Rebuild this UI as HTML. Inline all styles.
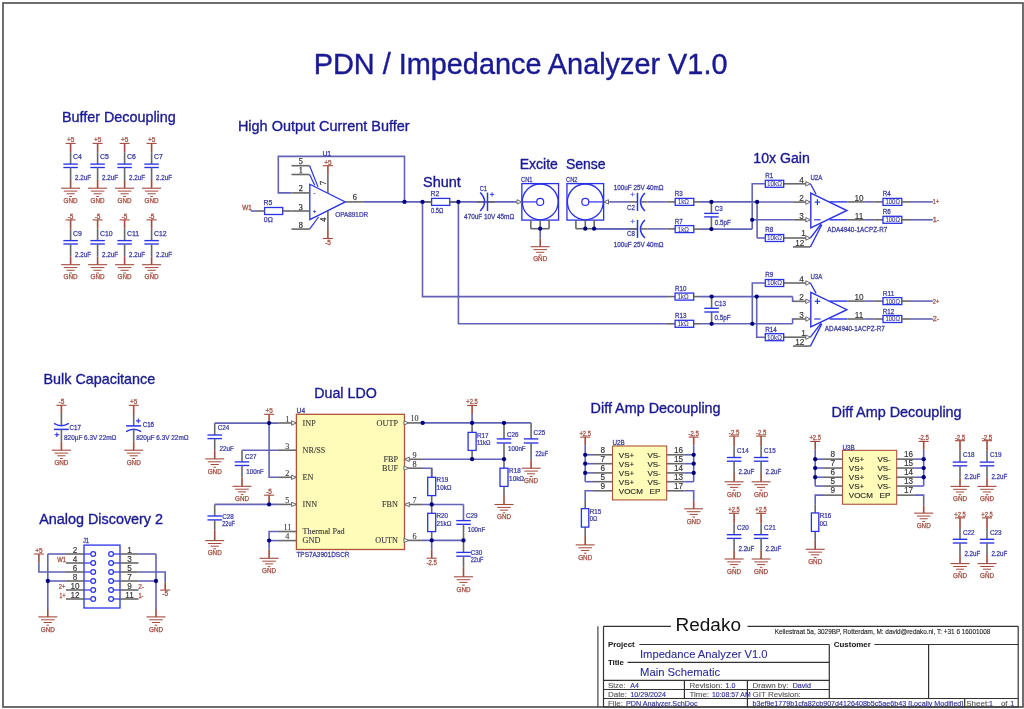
<!DOCTYPE html>
<html><head><meta charset="utf-8"><style>
html,body{margin:0;padding:0;background:#fff;}
svg{display:block;will-change:transform;}
text{white-space:pre;}
</style></head><body>
<svg width="1024" height="709" viewBox="0 0 1024 709" shape-rendering="auto">
<rect x="0" y="0" width="1024" height="709" fill="#ffffff"/>
<rect x="3.00" y="3.00" width="1020.00" height="704.00" fill="none" stroke="#4a4a4a" stroke-width="1.6"/>
<text transform="translate(313.80 74.20)" font-family='"Liberation Sans", sans-serif' font-size="28.85" font-weight="normal" fill="#1a1a92" stroke="#1a1a92" stroke-width="0.4">PDN / Impedance Analyzer V1.0</text>
<text transform="translate(61.90 121.90)" font-family='"Liberation Sans", sans-serif' font-size="14.37" font-weight="normal" fill="#1a1a92" stroke="#1a1a92" stroke-width="0.35">Buffer Decoupling</text>
<text transform="translate(237.90 130.70)" font-family='"Liberation Sans", sans-serif' font-size="14.46" font-weight="normal" fill="#1a1a92" stroke="#1a1a92" stroke-width="0.35">High Output Current Buffer</text>
<text transform="translate(423.00 186.50)" font-family='"Liberation Sans", sans-serif' font-size="14.47" font-weight="normal" fill="#1a1a92" stroke="#1a1a92" stroke-width="0.35">Shunt</text>
<text transform="translate(519.70 169.00)" font-family='"Liberation Sans", sans-serif' font-size="14.03" font-weight="normal" fill="#1a1a92" stroke="#1a1a92" stroke-width="0.35">Excite</text>
<text transform="translate(565.90 169.00)" font-family='"Liberation Sans", sans-serif' font-size="14.00" font-weight="normal" fill="#1a1a92" stroke="#1a1a92" stroke-width="0.35">Sense</text>
<text transform="translate(753.30 162.60)" font-family='"Liberation Sans", sans-serif' font-size="14.12" font-weight="normal" fill="#1a1a92" stroke="#1a1a92" stroke-width="0.35">10x Gain</text>
<text transform="translate(43.50 384.20)" font-family='"Liberation Sans", sans-serif' font-size="14.37" font-weight="normal" fill="#1a1a92" stroke="#1a1a92" stroke-width="0.35">Bulk Capacitance</text>
<text transform="translate(39.20 523.70)" font-family='"Liberation Sans", sans-serif' font-size="14.38" font-weight="normal" fill="#1a1a92" stroke="#1a1a92" stroke-width="0.35">Analog Discovery 2</text>
<text transform="translate(314.20 398.30)" font-family='"Liberation Sans", sans-serif' font-size="14.26" font-weight="normal" fill="#1a1a92" stroke="#1a1a92" stroke-width="0.35">Dual LDO</text>
<text transform="translate(590.60 412.80)" font-family='"Liberation Sans", sans-serif' font-size="14.39" font-weight="normal" fill="#1a1a92" stroke="#1a1a92" stroke-width="0.35">Diff Amp Decoupling</text>
<text transform="translate(831.60 416.80)" font-family='"Liberation Sans", sans-serif' font-size="14.38" font-weight="normal" fill="#1a1a92" stroke="#1a1a92" stroke-width="0.35">Diff Amp Decoupling</text>
<line x1="65.60" y1="143.40" x2="75.60" y2="143.40" stroke="#a24a3c" stroke-width="1.1"/>
<text transform="translate(66.90 142.26) scale(0.9835 1)" font-family='"Liberation Sans", sans-serif' font-size="6.60" font-weight="normal" fill="#a24a3c" stroke="#a24a3c" stroke-width="0.25">+5</text>
<line x1="70.60" y1="143.40" x2="70.60" y2="152.20" stroke="#a24a3c" stroke-width="1.6"/>
<line x1="70.60" y1="152.20" x2="70.60" y2="164.10" stroke="#686868" stroke-width="1.6"/>
<line x1="63.35" y1="164.10" x2="77.85" y2="164.10" stroke="#2a32e6" stroke-width="1.35"/>
<line x1="63.35" y1="167.50" x2="77.85" y2="167.50" stroke="#2a32e6" stroke-width="1.35"/>
<line x1="70.60" y1="167.50" x2="70.60" y2="180.00" stroke="#686868" stroke-width="1.6"/>
<line x1="70.60" y1="180.00" x2="70.60" y2="188.20" stroke="#a24a3c" stroke-width="1.6"/>
<line x1="61.10" y1="188.20" x2="80.10" y2="188.20" stroke="#a24a3c" stroke-width="1.1"/>
<line x1="63.80" y1="191.10" x2="77.40" y2="191.10" stroke="#a24a3c" stroke-width="1.0"/>
<line x1="66.50" y1="193.80" x2="74.70" y2="193.80" stroke="#a24a3c" stroke-width="1.0"/>
<line x1="69.30" y1="196.50" x2="71.90" y2="196.50" stroke="#a24a3c" stroke-width="1.0"/>
<text transform="translate(63.60 202.96)" font-family='"Liberation Sans", sans-serif' font-size="6.30" font-weight="normal" fill="#a24a3c" stroke="#a24a3c" stroke-width="0.25">GND</text>
<text transform="translate(73.00 159.47)" font-family='"Liberation Sans", sans-serif' font-size="6.90" font-weight="normal" fill="#3a3aa0" stroke="#3a3aa0" stroke-width="0.25">C4</text>
<text transform="translate(75.10 180.27) scale(0.9012 1)" font-family='"Liberation Sans", sans-serif' font-size="6.90" font-weight="normal" fill="#3a3aa0" stroke="#3a3aa0" stroke-width="0.25">2.2uF</text>
<line x1="92.60" y1="143.40" x2="102.60" y2="143.40" stroke="#a24a3c" stroke-width="1.1"/>
<text transform="translate(93.90 142.26) scale(0.9835 1)" font-family='"Liberation Sans", sans-serif' font-size="6.60" font-weight="normal" fill="#a24a3c" stroke="#a24a3c" stroke-width="0.25">+5</text>
<line x1="97.60" y1="143.40" x2="97.60" y2="152.20" stroke="#a24a3c" stroke-width="1.6"/>
<line x1="97.60" y1="152.20" x2="97.60" y2="164.10" stroke="#686868" stroke-width="1.6"/>
<line x1="90.35" y1="164.10" x2="104.85" y2="164.10" stroke="#2a32e6" stroke-width="1.35"/>
<line x1="90.35" y1="167.50" x2="104.85" y2="167.50" stroke="#2a32e6" stroke-width="1.35"/>
<line x1="97.60" y1="167.50" x2="97.60" y2="180.00" stroke="#686868" stroke-width="1.6"/>
<line x1="97.60" y1="180.00" x2="97.60" y2="188.20" stroke="#a24a3c" stroke-width="1.6"/>
<line x1="88.10" y1="188.20" x2="107.10" y2="188.20" stroke="#a24a3c" stroke-width="1.1"/>
<line x1="90.80" y1="191.10" x2="104.40" y2="191.10" stroke="#a24a3c" stroke-width="1.0"/>
<line x1="93.50" y1="193.80" x2="101.70" y2="193.80" stroke="#a24a3c" stroke-width="1.0"/>
<line x1="96.30" y1="196.50" x2="98.90" y2="196.50" stroke="#a24a3c" stroke-width="1.0"/>
<text transform="translate(90.60 202.96)" font-family='"Liberation Sans", sans-serif' font-size="6.30" font-weight="normal" fill="#a24a3c" stroke="#a24a3c" stroke-width="0.25">GND</text>
<text transform="translate(100.00 159.47)" font-family='"Liberation Sans", sans-serif' font-size="6.90" font-weight="normal" fill="#3a3aa0" stroke="#3a3aa0" stroke-width="0.25">C5</text>
<text transform="translate(102.10 180.27) scale(0.9012 1)" font-family='"Liberation Sans", sans-serif' font-size="6.90" font-weight="normal" fill="#3a3aa0" stroke="#3a3aa0" stroke-width="0.25">2.2uF</text>
<line x1="119.60" y1="143.40" x2="129.60" y2="143.40" stroke="#a24a3c" stroke-width="1.1"/>
<text transform="translate(120.90 142.26) scale(0.9835 1)" font-family='"Liberation Sans", sans-serif' font-size="6.60" font-weight="normal" fill="#a24a3c" stroke="#a24a3c" stroke-width="0.25">+5</text>
<line x1="124.60" y1="143.40" x2="124.60" y2="152.20" stroke="#a24a3c" stroke-width="1.6"/>
<line x1="124.60" y1="152.20" x2="124.60" y2="164.10" stroke="#686868" stroke-width="1.6"/>
<line x1="117.35" y1="164.10" x2="131.85" y2="164.10" stroke="#2a32e6" stroke-width="1.35"/>
<line x1="117.35" y1="167.50" x2="131.85" y2="167.50" stroke="#2a32e6" stroke-width="1.35"/>
<line x1="124.60" y1="167.50" x2="124.60" y2="180.00" stroke="#686868" stroke-width="1.6"/>
<line x1="124.60" y1="180.00" x2="124.60" y2="188.20" stroke="#a24a3c" stroke-width="1.6"/>
<line x1="115.10" y1="188.20" x2="134.10" y2="188.20" stroke="#a24a3c" stroke-width="1.1"/>
<line x1="117.80" y1="191.10" x2="131.40" y2="191.10" stroke="#a24a3c" stroke-width="1.0"/>
<line x1="120.50" y1="193.80" x2="128.70" y2="193.80" stroke="#a24a3c" stroke-width="1.0"/>
<line x1="123.30" y1="196.50" x2="125.90" y2="196.50" stroke="#a24a3c" stroke-width="1.0"/>
<text transform="translate(117.60 202.96)" font-family='"Liberation Sans", sans-serif' font-size="6.30" font-weight="normal" fill="#a24a3c" stroke="#a24a3c" stroke-width="0.25">GND</text>
<text transform="translate(127.00 159.47)" font-family='"Liberation Sans", sans-serif' font-size="6.90" font-weight="normal" fill="#3a3aa0" stroke="#3a3aa0" stroke-width="0.25">C6</text>
<text transform="translate(129.10 180.27) scale(0.9012 1)" font-family='"Liberation Sans", sans-serif' font-size="6.90" font-weight="normal" fill="#3a3aa0" stroke="#3a3aa0" stroke-width="0.25">2.2uF</text>
<line x1="146.60" y1="143.40" x2="156.60" y2="143.40" stroke="#a24a3c" stroke-width="1.1"/>
<text transform="translate(147.90 142.26) scale(0.9835 1)" font-family='"Liberation Sans", sans-serif' font-size="6.60" font-weight="normal" fill="#a24a3c" stroke="#a24a3c" stroke-width="0.25">+5</text>
<line x1="151.60" y1="143.40" x2="151.60" y2="152.20" stroke="#a24a3c" stroke-width="1.6"/>
<line x1="151.60" y1="152.20" x2="151.60" y2="164.10" stroke="#686868" stroke-width="1.6"/>
<line x1="144.35" y1="164.10" x2="158.85" y2="164.10" stroke="#2a32e6" stroke-width="1.35"/>
<line x1="144.35" y1="167.50" x2="158.85" y2="167.50" stroke="#2a32e6" stroke-width="1.35"/>
<line x1="151.60" y1="167.50" x2="151.60" y2="180.00" stroke="#686868" stroke-width="1.6"/>
<line x1="151.60" y1="180.00" x2="151.60" y2="188.20" stroke="#a24a3c" stroke-width="1.6"/>
<line x1="142.10" y1="188.20" x2="161.10" y2="188.20" stroke="#a24a3c" stroke-width="1.1"/>
<line x1="144.80" y1="191.10" x2="158.40" y2="191.10" stroke="#a24a3c" stroke-width="1.0"/>
<line x1="147.50" y1="193.80" x2="155.70" y2="193.80" stroke="#a24a3c" stroke-width="1.0"/>
<line x1="150.30" y1="196.50" x2="152.90" y2="196.50" stroke="#a24a3c" stroke-width="1.0"/>
<text transform="translate(144.60 202.96)" font-family='"Liberation Sans", sans-serif' font-size="6.30" font-weight="normal" fill="#a24a3c" stroke="#a24a3c" stroke-width="0.25">GND</text>
<text transform="translate(154.00 159.47)" font-family='"Liberation Sans", sans-serif' font-size="6.90" font-weight="normal" fill="#3a3aa0" stroke="#3a3aa0" stroke-width="0.25">C7</text>
<text transform="translate(156.10 180.27) scale(0.9012 1)" font-family='"Liberation Sans", sans-serif' font-size="6.90" font-weight="normal" fill="#3a3aa0" stroke="#3a3aa0" stroke-width="0.25">2.2uF</text>
<line x1="65.60" y1="219.90" x2="75.60" y2="219.90" stroke="#a24a3c" stroke-width="1.1"/>
<text transform="translate(67.70 218.76) scale(0.9885 1)" font-family='"Liberation Sans", sans-serif' font-size="6.60" font-weight="normal" fill="#a24a3c" stroke="#a24a3c" stroke-width="0.25">-5</text>
<line x1="70.60" y1="219.90" x2="70.60" y2="228.70" stroke="#a24a3c" stroke-width="1.6"/>
<line x1="70.60" y1="228.70" x2="70.60" y2="240.60" stroke="#686868" stroke-width="1.6"/>
<line x1="63.35" y1="240.60" x2="77.85" y2="240.60" stroke="#2a32e6" stroke-width="1.35"/>
<line x1="63.35" y1="244.00" x2="77.85" y2="244.00" stroke="#2a32e6" stroke-width="1.35"/>
<line x1="70.60" y1="244.00" x2="70.60" y2="256.50" stroke="#686868" stroke-width="1.6"/>
<line x1="70.60" y1="256.50" x2="70.60" y2="264.70" stroke="#a24a3c" stroke-width="1.6"/>
<line x1="61.10" y1="264.70" x2="80.10" y2="264.70" stroke="#a24a3c" stroke-width="1.1"/>
<line x1="63.80" y1="267.60" x2="77.40" y2="267.60" stroke="#a24a3c" stroke-width="1.0"/>
<line x1="66.50" y1="270.30" x2="74.70" y2="270.30" stroke="#a24a3c" stroke-width="1.0"/>
<line x1="69.30" y1="273.00" x2="71.90" y2="273.00" stroke="#a24a3c" stroke-width="1.0"/>
<text transform="translate(63.60 279.46)" font-family='"Liberation Sans", sans-serif' font-size="6.30" font-weight="normal" fill="#a24a3c" stroke="#a24a3c" stroke-width="0.25">GND</text>
<text transform="translate(73.00 235.97)" font-family='"Liberation Sans", sans-serif' font-size="6.90" font-weight="normal" fill="#3a3aa0" stroke="#3a3aa0" stroke-width="0.25">C9</text>
<text transform="translate(75.10 256.77) scale(0.9012 1)" font-family='"Liberation Sans", sans-serif' font-size="6.90" font-weight="normal" fill="#3a3aa0" stroke="#3a3aa0" stroke-width="0.25">2.2uF</text>
<line x1="92.60" y1="219.90" x2="102.60" y2="219.90" stroke="#a24a3c" stroke-width="1.1"/>
<text transform="translate(94.70 218.76) scale(0.9885 1)" font-family='"Liberation Sans", sans-serif' font-size="6.60" font-weight="normal" fill="#a24a3c" stroke="#a24a3c" stroke-width="0.25">-5</text>
<line x1="97.60" y1="219.90" x2="97.60" y2="228.70" stroke="#a24a3c" stroke-width="1.6"/>
<line x1="97.60" y1="228.70" x2="97.60" y2="240.60" stroke="#686868" stroke-width="1.6"/>
<line x1="90.35" y1="240.60" x2="104.85" y2="240.60" stroke="#2a32e6" stroke-width="1.35"/>
<line x1="90.35" y1="244.00" x2="104.85" y2="244.00" stroke="#2a32e6" stroke-width="1.35"/>
<line x1="97.60" y1="244.00" x2="97.60" y2="256.50" stroke="#686868" stroke-width="1.6"/>
<line x1="97.60" y1="256.50" x2="97.60" y2="264.70" stroke="#a24a3c" stroke-width="1.6"/>
<line x1="88.10" y1="264.70" x2="107.10" y2="264.70" stroke="#a24a3c" stroke-width="1.1"/>
<line x1="90.80" y1="267.60" x2="104.40" y2="267.60" stroke="#a24a3c" stroke-width="1.0"/>
<line x1="93.50" y1="270.30" x2="101.70" y2="270.30" stroke="#a24a3c" stroke-width="1.0"/>
<line x1="96.30" y1="273.00" x2="98.90" y2="273.00" stroke="#a24a3c" stroke-width="1.0"/>
<text transform="translate(90.60 279.46)" font-family='"Liberation Sans", sans-serif' font-size="6.30" font-weight="normal" fill="#a24a3c" stroke="#a24a3c" stroke-width="0.25">GND</text>
<text transform="translate(100.00 235.97)" font-family='"Liberation Sans", sans-serif' font-size="6.90" font-weight="normal" fill="#3a3aa0" stroke="#3a3aa0" stroke-width="0.25">C10</text>
<text transform="translate(102.10 256.77) scale(0.9012 1)" font-family='"Liberation Sans", sans-serif' font-size="6.90" font-weight="normal" fill="#3a3aa0" stroke="#3a3aa0" stroke-width="0.25">2.2uF</text>
<line x1="119.60" y1="219.90" x2="129.60" y2="219.90" stroke="#a24a3c" stroke-width="1.1"/>
<text transform="translate(121.70 218.76) scale(0.9885 1)" font-family='"Liberation Sans", sans-serif' font-size="6.60" font-weight="normal" fill="#a24a3c" stroke="#a24a3c" stroke-width="0.25">-5</text>
<line x1="124.60" y1="219.90" x2="124.60" y2="228.70" stroke="#a24a3c" stroke-width="1.6"/>
<line x1="124.60" y1="228.70" x2="124.60" y2="240.60" stroke="#686868" stroke-width="1.6"/>
<line x1="117.35" y1="240.60" x2="131.85" y2="240.60" stroke="#2a32e6" stroke-width="1.35"/>
<line x1="117.35" y1="244.00" x2="131.85" y2="244.00" stroke="#2a32e6" stroke-width="1.35"/>
<line x1="124.60" y1="244.00" x2="124.60" y2="256.50" stroke="#686868" stroke-width="1.6"/>
<line x1="124.60" y1="256.50" x2="124.60" y2="264.70" stroke="#a24a3c" stroke-width="1.6"/>
<line x1="115.10" y1="264.70" x2="134.10" y2="264.70" stroke="#a24a3c" stroke-width="1.1"/>
<line x1="117.80" y1="267.60" x2="131.40" y2="267.60" stroke="#a24a3c" stroke-width="1.0"/>
<line x1="120.50" y1="270.30" x2="128.70" y2="270.30" stroke="#a24a3c" stroke-width="1.0"/>
<line x1="123.30" y1="273.00" x2="125.90" y2="273.00" stroke="#a24a3c" stroke-width="1.0"/>
<text transform="translate(117.60 279.46)" font-family='"Liberation Sans", sans-serif' font-size="6.30" font-weight="normal" fill="#a24a3c" stroke="#a24a3c" stroke-width="0.25">GND</text>
<text transform="translate(127.00 235.97)" font-family='"Liberation Sans", sans-serif' font-size="6.90" font-weight="normal" fill="#3a3aa0" stroke="#3a3aa0" stroke-width="0.25">C11</text>
<text transform="translate(129.10 256.77) scale(0.9012 1)" font-family='"Liberation Sans", sans-serif' font-size="6.90" font-weight="normal" fill="#3a3aa0" stroke="#3a3aa0" stroke-width="0.25">2.2uF</text>
<line x1="146.60" y1="219.90" x2="156.60" y2="219.90" stroke="#a24a3c" stroke-width="1.1"/>
<text transform="translate(148.70 218.76) scale(0.9885 1)" font-family='"Liberation Sans", sans-serif' font-size="6.60" font-weight="normal" fill="#a24a3c" stroke="#a24a3c" stroke-width="0.25">-5</text>
<line x1="151.60" y1="219.90" x2="151.60" y2="228.70" stroke="#a24a3c" stroke-width="1.6"/>
<line x1="151.60" y1="228.70" x2="151.60" y2="240.60" stroke="#686868" stroke-width="1.6"/>
<line x1="144.35" y1="240.60" x2="158.85" y2="240.60" stroke="#2a32e6" stroke-width="1.35"/>
<line x1="144.35" y1="244.00" x2="158.85" y2="244.00" stroke="#2a32e6" stroke-width="1.35"/>
<line x1="151.60" y1="244.00" x2="151.60" y2="256.50" stroke="#686868" stroke-width="1.6"/>
<line x1="151.60" y1="256.50" x2="151.60" y2="264.70" stroke="#a24a3c" stroke-width="1.6"/>
<line x1="142.10" y1="264.70" x2="161.10" y2="264.70" stroke="#a24a3c" stroke-width="1.1"/>
<line x1="144.80" y1="267.60" x2="158.40" y2="267.60" stroke="#a24a3c" stroke-width="1.0"/>
<line x1="147.50" y1="270.30" x2="155.70" y2="270.30" stroke="#a24a3c" stroke-width="1.0"/>
<line x1="150.30" y1="273.00" x2="152.90" y2="273.00" stroke="#a24a3c" stroke-width="1.0"/>
<text transform="translate(144.60 279.46)" font-family='"Liberation Sans", sans-serif' font-size="6.30" font-weight="normal" fill="#a24a3c" stroke="#a24a3c" stroke-width="0.25">GND</text>
<text transform="translate(154.00 235.97)" font-family='"Liberation Sans", sans-serif' font-size="6.90" font-weight="normal" fill="#3a3aa0" stroke="#3a3aa0" stroke-width="0.25">C12</text>
<text transform="translate(156.10 256.77) scale(0.9012 1)" font-family='"Liberation Sans", sans-serif' font-size="6.90" font-weight="normal" fill="#3a3aa0" stroke="#3a3aa0" stroke-width="0.25">2.2uF</text>
<polyline points="291.50,192.90 278.30,192.90 278.30,156.40 404.50,156.40 404.50,201.90" fill="none" stroke="#6262b6" stroke-width="1.6" stroke-linejoin="miter"/>
<polygon points="309.8,184.2 309.8,219.7 345.3,201.95" fill="none" stroke="#2a32e6" stroke-width="1.3"/>
<line x1="291.50" y1="165.70" x2="309.60" y2="165.70" stroke="#686868" stroke-width="1.6"/>
<line x1="291.50" y1="174.50" x2="309.60" y2="174.50" stroke="#686868" stroke-width="1.6"/>
<line x1="291.50" y1="192.90" x2="309.60" y2="192.90" stroke="#686868" stroke-width="1.6"/>
<line x1="291.50" y1="211.00" x2="309.60" y2="211.00" stroke="#686868" stroke-width="1.6"/>
<line x1="291.50" y1="229.10" x2="309.60" y2="229.10" stroke="#686868" stroke-width="1.6"/>
<line x1="309.60" y1="165.70" x2="318.00" y2="186.90" stroke="#2a32e6" stroke-width="1.2"/>
<line x1="309.60" y1="174.50" x2="314.70" y2="185.30" stroke="#2a32e6" stroke-width="1.2"/>
<line x1="309.60" y1="229.10" x2="318.50" y2="217.00" stroke="#2a32e6" stroke-width="1.2"/>
<line x1="327.90" y1="165.70" x2="327.90" y2="174.80" stroke="#a24a3c" stroke-width="1.6"/>
<line x1="327.90" y1="174.80" x2="327.90" y2="193.00" stroke="#686868" stroke-width="1.6"/>
<line x1="327.90" y1="211.00" x2="327.90" y2="229.10" stroke="#686868" stroke-width="1.6"/>
<line x1="327.90" y1="229.10" x2="327.90" y2="238.50" stroke="#a24a3c" stroke-width="1.6"/>
<line x1="322.90" y1="165.70" x2="332.90" y2="165.70" stroke="#a24a3c" stroke-width="1.1"/>
<text transform="translate(324.20 164.56) scale(0.9835 1)" font-family='"Liberation Sans", sans-serif' font-size="6.60" font-weight="normal" fill="#a24a3c" stroke="#a24a3c" stroke-width="0.25">+5</text>
<line x1="322.90" y1="238.50" x2="332.90" y2="238.50" stroke="#a24a3c" stroke-width="1.1"/>
<text transform="translate(325.00 244.86) scale(0.9885 1)" font-family='"Liberation Sans", sans-serif' font-size="6.60" font-weight="normal" fill="#a24a3c" stroke="#a24a3c" stroke-width="0.25">-5</text>
<line x1="345.30" y1="201.90" x2="363.90" y2="201.90" stroke="#686868" stroke-width="1.6"/>
<line x1="363.90" y1="201.90" x2="516.00" y2="201.90" stroke="#6262b6" stroke-width="1.6"/>
<text transform="translate(298.75 163.91)" font-family='"Liberation Serif", serif' font-size="8.20" font-weight="normal" fill="#303030" stroke="#303030" stroke-width="0.25">5</text>
<text transform="translate(298.75 173.01)" font-family='"Liberation Serif", serif' font-size="8.20" font-weight="normal" fill="#303030" stroke="#303030" stroke-width="0.25">1</text>
<text transform="translate(298.75 191.31)" font-family='"Liberation Serif", serif' font-size="8.20" font-weight="normal" fill="#303030" stroke="#303030" stroke-width="0.25">2</text>
<text transform="translate(298.75 209.51)" font-family='"Liberation Serif", serif' font-size="8.20" font-weight="normal" fill="#303030" stroke="#303030" stroke-width="0.25">3</text>
<text transform="translate(298.75 227.61)" font-family='"Liberation Serif", serif' font-size="8.20" font-weight="normal" fill="#303030" stroke="#303030" stroke-width="0.25">8</text>
<text transform="translate(352.75 200.11)" font-family='"Liberation Serif", serif' font-size="8.20" font-weight="normal" fill="#303030" stroke="#303030" stroke-width="0.25">6</text>
<text transform="translate(321.55 185.61) rotate(-90 2.05 -2.71)" font-family='"Liberation Serif", serif' font-size="8.20" font-weight="normal" fill="#303030" stroke="#303030" stroke-width="0.25">7</text>
<text transform="translate(321.55 222.41) rotate(-90 2.05 -2.71)" font-family='"Liberation Serif", serif' font-size="8.20" font-weight="normal" fill="#303030" stroke="#303030" stroke-width="0.25">4</text>
<text transform="translate(313.50 195.15)" font-family='"Liberation Sans", sans-serif' font-size="6.00" font-weight="normal" fill="#2a32e6" stroke="#2a32e6" stroke-width="0.25">-</text>
<text transform="translate(312.75 213.15)" font-family='"Liberation Sans", sans-serif' font-size="6.00" font-weight="normal" fill="#2a32e6" stroke="#2a32e6" stroke-width="0.25">+</text>
<text transform="translate(322.39 155.87)" font-family='"Liberation Sans", sans-serif' font-size="6.90" font-weight="normal" fill="#3a3aa0" stroke="#3a3aa0" stroke-width="0.25">U1</text>
<text transform="translate(335.20 217.07) scale(0.9287 1)" font-family='"Liberation Sans", sans-serif' font-size="6.90" font-weight="normal" fill="#3a3aa0" stroke="#3a3aa0" stroke-width="0.25">OPA891DR</text>
<rect x="264.60" y="207.50" width="18.10" height="7.00" fill="#ffffff" stroke="#2a32e6" stroke-width="1.3"/>
<line x1="282.70" y1="211.00" x2="291.50" y2="211.00" stroke="#686868" stroke-width="1.6"/>
<line x1="257.00" y1="211.00" x2="264.60" y2="211.00" stroke="#686868" stroke-width="1.6"/>
<line x1="250.70" y1="211.00" x2="257.00" y2="211.00" stroke="#6262b6" stroke-width="1.6"/>
<text transform="translate(242.20 209.77) scale(0.9179 1)" font-family='"Liberation Sans", sans-serif' font-size="6.90" font-weight="normal" fill="#a24a3c" stroke="#a24a3c" stroke-width="0.25">W1</text>
<text transform="translate(263.60 205.27)" font-family='"Liberation Sans", sans-serif' font-size="6.90" font-weight="normal" fill="#3a3aa0" stroke="#3a3aa0" stroke-width="0.25">R5</text>
<text transform="translate(263.80 222.07)" font-family='"Liberation Sans", sans-serif' font-size="6.90" font-weight="normal" fill="#3a3aa0" stroke="#3a3aa0" stroke-width="0.25">0Ω</text>
<rect x="431.60" y="198.40" width="18.20" height="7.00" fill="#ffffff" stroke="#2a32e6" stroke-width="1.3"/>
<line x1="422.50" y1="201.90" x2="431.60" y2="201.90" stroke="#686868" stroke-width="1.6"/>
<line x1="449.80" y1="201.90" x2="458.40" y2="201.90" stroke="#686868" stroke-width="1.6"/>
<text transform="translate(430.50 196.47)" font-family='"Liberation Sans", sans-serif' font-size="6.90" font-weight="normal" fill="#3a3aa0" stroke="#3a3aa0" stroke-width="0.25">R2</text>
<text transform="translate(431.00 213.07) scale(0.8473 1)" font-family='"Liberation Sans", sans-serif' font-size="6.90" font-weight="normal" fill="#3a3aa0" stroke="#3a3aa0" stroke-width="0.25">0.5Ω</text>
<line x1="477.10" y1="201.90" x2="484.60" y2="201.90" stroke="#686868" stroke-width="1.6"/>
<line x1="487.50" y1="201.90" x2="494.50" y2="201.90" stroke="#686868" stroke-width="1.6"/>
<path d="M480.20,192.60 Q489.00,201.85 480.20,211.10" fill="none" stroke="#2a32e6" stroke-width="1.5"/>
<line x1="487.50" y1="192.60" x2="487.50" y2="211.10" stroke="#2a32e6" stroke-width="1.5"/>
<line x1="489.90" y1="194.40" x2="494.30" y2="194.40" stroke="#2a32e6" stroke-width="0.9"/>
<line x1="492.10" y1="192.20" x2="492.10" y2="196.60" stroke="#2a32e6" stroke-width="0.9"/>
<text transform="translate(479.80 190.97) scale(0.8165 1)" font-family='"Liberation Sans", sans-serif' font-size="6.90" font-weight="normal" fill="#3a3aa0" stroke="#3a3aa0" stroke-width="0.25">C1</text>
<text transform="translate(464.10 218.67) scale(0.9253 1)" font-family='"Liberation Sans", sans-serif' font-size="6.90" font-weight="normal" fill="#3a3aa0" stroke="#3a3aa0" stroke-width="0.25">470uF 10V 45mΩ</text>
<rect x="521.85" y="183.60" width="36.70" height="36.50" fill="none" stroke="#2a32e6" stroke-width="1.3"/>
<circle cx="540.20" cy="201.9" r="17.9" fill="none" stroke="#2a32e6" stroke-width="1.3"/>
<circle cx="540.20" cy="201.9" r="3.5" fill="none" stroke="#2a32e6" stroke-width="1.2"/>
<line x1="521.85" y1="201.90" x2="536.70" y2="201.90" stroke="#2a32e6" stroke-width="1.2"/>
<line x1="516.20" y1="201.90" x2="521.85" y2="201.90" stroke="#686868" stroke-width="1.6"/>
<polygon points="517.00,199.70 521.60,201.90 517.00,204.10" fill="#ffffff" stroke="#686868" stroke-width="1.0"/>
<line x1="530.80" y1="220.10" x2="530.80" y2="228.70" stroke="#686868" stroke-width="1.6"/>
<line x1="540.20" y1="220.10" x2="540.20" y2="228.70" stroke="#686868" stroke-width="1.6"/>
<line x1="549.10" y1="220.10" x2="549.10" y2="228.70" stroke="#686868" stroke-width="1.6"/>
<line x1="530.80" y1="228.70" x2="549.10" y2="228.70" stroke="#686868" stroke-width="1.6"/>
<text transform="translate(521.00 181.87) scale(0.8329 1)" font-family='"Liberation Sans", sans-serif' font-size="6.90" font-weight="normal" fill="#3a3aa0" stroke="#3a3aa0" stroke-width="0.25">CN1</text>
<rect x="566.95" y="183.60" width="36.70" height="36.50" fill="none" stroke="#2a32e6" stroke-width="1.3"/>
<circle cx="585.30" cy="201.9" r="17.9" fill="none" stroke="#2a32e6" stroke-width="1.3"/>
<circle cx="585.30" cy="201.9" r="3.5" fill="none" stroke="#2a32e6" stroke-width="1.2"/>
<line x1="588.80" y1="201.90" x2="603.65" y2="201.90" stroke="#2a32e6" stroke-width="1.2"/>
<line x1="603.65" y1="201.90" x2="609.30" y2="201.90" stroke="#686868" stroke-width="1.6"/>
<polygon points="608.50,199.70 603.90,201.90 608.50,204.10" fill="#ffffff" stroke="#686868" stroke-width="1.0"/>
<line x1="575.90" y1="220.10" x2="575.90" y2="228.70" stroke="#686868" stroke-width="1.6"/>
<line x1="585.30" y1="220.10" x2="585.30" y2="228.70" stroke="#686868" stroke-width="1.6"/>
<line x1="594.20" y1="220.10" x2="594.20" y2="228.70" stroke="#686868" stroke-width="1.6"/>
<line x1="575.90" y1="228.70" x2="594.20" y2="228.70" stroke="#686868" stroke-width="1.6"/>
<text transform="translate(566.10 181.87) scale(0.8329 1)" font-family='"Liberation Sans", sans-serif' font-size="6.90" font-weight="normal" fill="#3a3aa0" stroke="#3a3aa0" stroke-width="0.25">CN2</text>
<line x1="540.20" y1="228.70" x2="540.20" y2="238.50" stroke="#6262b6" stroke-width="1.6"/>
<line x1="540.20" y1="238.50" x2="540.20" y2="246.70" stroke="#a24a3c" stroke-width="1.6"/>
<line x1="530.70" y1="246.70" x2="549.70" y2="246.70" stroke="#a24a3c" stroke-width="1.1"/>
<line x1="533.40" y1="249.60" x2="547.00" y2="249.60" stroke="#a24a3c" stroke-width="1.0"/>
<line x1="536.10" y1="252.30" x2="544.30" y2="252.30" stroke="#a24a3c" stroke-width="1.0"/>
<line x1="538.90" y1="255.00" x2="541.50" y2="255.00" stroke="#a24a3c" stroke-width="1.0"/>
<text transform="translate(533.20 261.46)" font-family='"Liberation Sans", sans-serif' font-size="6.30" font-weight="normal" fill="#a24a3c" stroke="#a24a3c" stroke-width="0.25">GND</text>
<line x1="594.10" y1="228.70" x2="637.50" y2="228.90" stroke="#6262b6" stroke-width="1.6"/>
<line x1="609.30" y1="201.90" x2="630.00" y2="201.90" stroke="#6262b6" stroke-width="1.6"/>
<line x1="630.00" y1="201.90" x2="637.50" y2="201.90" stroke="#686868" stroke-width="1.6"/>
<line x1="637.50" y1="192.90" x2="637.50" y2="210.90" stroke="#2a32e6" stroke-width="1.5"/>
<path d="M644.90,192.90 Q636.10,201.90 644.90,210.90" fill="none" stroke="#2a32e6" stroke-width="1.5"/>
<line x1="640.50" y1="201.90" x2="647.70" y2="201.90" stroke="#686868" stroke-width="1.6"/>
<line x1="647.70" y1="201.90" x2="666.70" y2="201.90" stroke="#6262b6" stroke-width="1.6"/>
<line x1="666.70" y1="201.90" x2="675.20" y2="201.90" stroke="#686868" stroke-width="1.6"/>
<line x1="630.60" y1="194.40" x2="634.60" y2="194.40" stroke="#6a6ae0" stroke-width="0.9"/>
<line x1="632.60" y1="192.40" x2="632.60" y2="196.40" stroke="#6a6ae0" stroke-width="0.9"/>
<text transform="translate(627.00 210.07) scale(0.8959 1)" font-family='"Liberation Sans", sans-serif' font-size="6.90" font-weight="normal" fill="#3a3aa0" stroke="#3a3aa0" stroke-width="0.25">C2</text>
<text transform="translate(613.80 189.67) scale(0.9179 1)" font-family='"Liberation Sans", sans-serif' font-size="6.90" font-weight="normal" fill="#3a3aa0" stroke="#3a3aa0" stroke-width="0.25">100uF 25V 40mΩ</text>
<line x1="630.00" y1="228.90" x2="637.50" y2="228.90" stroke="#686868" stroke-width="1.6"/>
<line x1="637.50" y1="219.90" x2="637.50" y2="237.90" stroke="#2a32e6" stroke-width="1.5"/>
<path d="M644.90,219.90 Q636.10,228.90 644.90,237.90" fill="none" stroke="#2a32e6" stroke-width="1.5"/>
<line x1="640.50" y1="228.90" x2="647.70" y2="228.90" stroke="#686868" stroke-width="1.6"/>
<line x1="647.70" y1="228.90" x2="666.70" y2="228.90" stroke="#6262b6" stroke-width="1.6"/>
<line x1="666.70" y1="228.90" x2="675.20" y2="228.90" stroke="#686868" stroke-width="1.6"/>
<line x1="630.60" y1="221.40" x2="634.60" y2="221.40" stroke="#6a6ae0" stroke-width="0.9"/>
<line x1="632.60" y1="219.40" x2="632.60" y2="223.40" stroke="#6a6ae0" stroke-width="0.9"/>
<text transform="translate(627.00 236.07) scale(0.8959 1)" font-family='"Liberation Sans", sans-serif' font-size="6.90" font-weight="normal" fill="#3a3aa0" stroke="#3a3aa0" stroke-width="0.25">C8</text>
<text transform="translate(613.80 246.67) scale(0.9179 1)" font-family='"Liberation Sans", sans-serif' font-size="6.90" font-weight="normal" fill="#3a3aa0" stroke="#3a3aa0" stroke-width="0.25">100uF 25V 40mΩ</text>
<line x1="594.10" y1="228.90" x2="630.00" y2="228.90" stroke="#6262b6" stroke-width="1.6"/>
<rect x="675.20" y="198.40" width="18.60" height="7.00" fill="#ffffff" stroke="#2a32e6" stroke-width="1.3"/>
<text transform="translate(677.80 204.37) scale(0.8998 1)" font-family='"Liberation Sans", sans-serif' font-size="6.90" font-weight="normal" fill="#3a3aa0" stroke="#3a3aa0" stroke-width="0.1">1kΩ</text>
<text transform="translate(674.80 196.37) scale(0.9072 1)" font-family='"Liberation Sans", sans-serif' font-size="6.90" font-weight="normal" fill="#3a3aa0" stroke="#3a3aa0" stroke-width="0.25">R3</text>
<line x1="693.80" y1="201.90" x2="700.00" y2="201.90" stroke="#686868" stroke-width="1.6"/>
<rect x="675.20" y="225.60" width="18.60" height="7.00" fill="#ffffff" stroke="#2a32e6" stroke-width="1.3"/>
<text transform="translate(677.80 231.57) scale(0.8998 1)" font-family='"Liberation Sans", sans-serif' font-size="6.90" font-weight="normal" fill="#3a3aa0" stroke="#3a3aa0" stroke-width="0.1">1kΩ</text>
<text transform="translate(674.80 223.57) scale(0.9072 1)" font-family='"Liberation Sans", sans-serif' font-size="6.90" font-weight="normal" fill="#3a3aa0" stroke="#3a3aa0" stroke-width="0.25">R7</text>
<line x1="693.80" y1="229.10" x2="700.00" y2="229.10" stroke="#686868" stroke-width="1.6"/>
<line x1="700.00" y1="201.90" x2="757.10" y2="201.90" stroke="#6262b6" stroke-width="1.6"/>
<line x1="700.00" y1="229.10" x2="752.20" y2="229.10" stroke="#6262b6" stroke-width="1.6"/>
<line x1="711.40" y1="201.90" x2="711.40" y2="213.40" stroke="#686868" stroke-width="1.6"/>
<line x1="711.40" y1="216.90" x2="711.40" y2="229.10" stroke="#686868" stroke-width="1.6"/>
<line x1="704.15" y1="213.40" x2="718.65" y2="213.40" stroke="#2a32e6" stroke-width="1.35"/>
<line x1="704.15" y1="216.90" x2="718.65" y2="216.90" stroke="#2a32e6" stroke-width="1.35"/>
<text transform="translate(714.80 210.77) scale(0.9072 1)" font-family='"Liberation Sans", sans-serif' font-size="6.90" font-weight="normal" fill="#3a3aa0" stroke="#3a3aa0" stroke-width="0.25">C3</text>
<text transform="translate(714.80 225.27) scale(0.9069 1)" font-family='"Liberation Sans", sans-serif' font-size="6.90" font-weight="normal" fill="#3a3aa0" stroke="#3a3aa0" stroke-width="0.25">0.5pF</text>
<polygon points="810.8,193.20 810.8,227.80 846.9,210.50" fill="none" stroke="#2a32e6" stroke-width="1.4"/>
<line x1="814.60" y1="202.10" x2="820.20" y2="202.10" stroke="#2a32e6" stroke-width="1.2"/>
<line x1="817.40" y1="199.30" x2="817.40" y2="204.90" stroke="#2a32e6" stroke-width="1.2"/>
<line x1="814.20" y1="219.80" x2="820.60" y2="219.80" stroke="#2a32e6" stroke-width="1.2"/>
<line x1="783.70" y1="183.80" x2="806.40" y2="183.80" stroke="#686868" stroke-width="1.6"/>
<polygon points="805.80,181.60 810.40,183.80 805.80,186.00" fill="#ffffff" stroke="#686868" stroke-width="1.0"/>
<line x1="793.20" y1="202.10" x2="806.40" y2="202.10" stroke="#686868" stroke-width="1.6"/>
<polygon points="805.80,199.90 810.40,202.10 805.80,204.30" fill="#ffffff" stroke="#686868" stroke-width="1.0"/>
<line x1="793.20" y1="219.80" x2="806.40" y2="219.80" stroke="#686868" stroke-width="1.6"/>
<polygon points="805.80,217.60 810.40,219.80 805.80,222.00" fill="#ffffff" stroke="#686868" stroke-width="1.0"/>
<line x1="783.70" y1="238.00" x2="806.40" y2="238.00" stroke="#686868" stroke-width="1.6"/>
<polygon points="805.80,235.80 810.40,238.00 805.80,240.20" fill="#ffffff" stroke="#686868" stroke-width="1.0"/>
<line x1="793.00" y1="246.90" x2="810.40" y2="246.90" stroke="#686868" stroke-width="1.6"/>
<line x1="810.40" y1="183.80" x2="816.10" y2="194.20" stroke="#2a32e6" stroke-width="1.3"/>
<line x1="810.40" y1="238.00" x2="821.20" y2="224.00" stroke="#2a32e6" stroke-width="1.3"/>
<line x1="810.40" y1="246.90" x2="821.80" y2="224.70" stroke="#2a32e6" stroke-width="1.3"/>
<text transform="translate(799.22 182.54)" font-family='"Liberation Sans", sans-serif' font-size="8.20" font-weight="normal" fill="#333333" stroke="#333333" stroke-width="0.15">4</text>
<text transform="translate(799.22 200.64)" font-family='"Liberation Sans", sans-serif' font-size="8.20" font-weight="normal" fill="#333333" stroke="#333333" stroke-width="0.15">2</text>
<text transform="translate(799.22 218.74)" font-family='"Liberation Sans", sans-serif' font-size="8.20" font-weight="normal" fill="#333333" stroke="#333333" stroke-width="0.15">3</text>
<text transform="translate(801.22 236.44)" font-family='"Liberation Sans", sans-serif' font-size="8.20" font-weight="normal" fill="#333333" stroke="#333333" stroke-width="0.15">1</text>
<text transform="translate(795.24 245.64)" font-family='"Liberation Sans", sans-serif' font-size="8.20" font-weight="normal" fill="#333333" stroke="#333333" stroke-width="0.15">12</text>
<text transform="translate(854.44 201.14)" font-family='"Liberation Sans", sans-serif' font-size="8.20" font-weight="normal" fill="#333333" stroke="#333333" stroke-width="0.15">10</text>
<text transform="translate(854.74 219.24)" font-family='"Liberation Sans", sans-serif' font-size="8.20" font-weight="normal" fill="#333333" stroke="#333333" stroke-width="0.15">11</text>
<text transform="translate(810.40 180.17) scale(0.8942 1)" font-family='"Liberation Sans", sans-serif' font-size="6.90" font-weight="normal" fill="#3a3aa0" stroke="#3a3aa0" stroke-width="0.25">U2A</text>
<text transform="translate(827.20 232.27) scale(0.9234 1)" font-family='"Liberation Sans", sans-serif' font-size="6.90" font-weight="normal" fill="#3a3aa0" stroke="#3a3aa0" stroke-width="0.25">ADA4940-1ACPZ-R7</text>
<rect x="765.30" y="180.30" width="18.40" height="7.00" fill="#ffffff" stroke="#2a32e6" stroke-width="1.3"/>
<text transform="translate(767.00 186.27) scale(0.9211 1)" font-family='"Liberation Sans", sans-serif' font-size="6.90" font-weight="normal" fill="#3a3aa0" stroke="#3a3aa0" stroke-width="0.1">10kΩ</text>
<text transform="translate(765.30 178.27) scale(0.9072 1)" font-family='"Liberation Sans", sans-serif' font-size="6.90" font-weight="normal" fill="#3a3aa0" stroke="#3a3aa0" stroke-width="0.25">R1</text>
<rect x="765.30" y="234.50" width="18.40" height="7.00" fill="#ffffff" stroke="#2a32e6" stroke-width="1.3"/>
<text transform="translate(767.00 240.47) scale(0.9211 1)" font-family='"Liberation Sans", sans-serif' font-size="6.90" font-weight="normal" fill="#3a3aa0" stroke="#3a3aa0" stroke-width="0.1">10kΩ</text>
<text transform="translate(765.30 232.47) scale(0.9072 1)" font-family='"Liberation Sans", sans-serif' font-size="6.90" font-weight="normal" fill="#3a3aa0" stroke="#3a3aa0" stroke-width="0.25">R8</text>
<line x1="829.50" y1="201.90" x2="847.30" y2="201.90" stroke="#2a32e6" stroke-width="1.4"/>
<line x1="847.30" y1="201.90" x2="864.80" y2="201.90" stroke="#686868" stroke-width="1.6"/>
<line x1="864.80" y1="201.90" x2="874.20" y2="201.90" stroke="#6262b6" stroke-width="1.6"/>
<line x1="874.20" y1="201.90" x2="883.00" y2="201.90" stroke="#686868" stroke-width="1.6"/>
<rect x="883.00" y="198.40" width="18.80" height="7.00" fill="#ffffff" stroke="#2a32e6" stroke-width="1.3"/>
<text transform="translate(885.40 204.37) scale(0.8758 1)" font-family='"Liberation Sans", sans-serif' font-size="6.90" font-weight="normal" fill="#3a3aa0" stroke="#3a3aa0" stroke-width="0.1">100Ω</text>
<text transform="translate(882.80 196.47) scale(0.9072 1)" font-family='"Liberation Sans", sans-serif' font-size="6.90" font-weight="normal" fill="#3a3aa0" stroke="#3a3aa0" stroke-width="0.25">R4</text>
<line x1="901.80" y1="201.90" x2="910.00" y2="201.90" stroke="#686868" stroke-width="1.6"/>
<line x1="910.00" y1="201.90" x2="932.80" y2="201.90" stroke="#6262b6" stroke-width="1.6"/>
<text transform="translate(932.80 204.37) scale(0.8263 1)" font-family='"Liberation Sans", sans-serif' font-size="6.90" font-weight="normal" fill="#a24a3c" stroke="#a24a3c" stroke-width="0.25">1+</text>
<line x1="829.50" y1="219.80" x2="847.30" y2="219.80" stroke="#2a32e6" stroke-width="1.4"/>
<line x1="847.30" y1="219.80" x2="864.80" y2="219.80" stroke="#686868" stroke-width="1.6"/>
<line x1="864.80" y1="219.80" x2="874.20" y2="219.80" stroke="#6262b6" stroke-width="1.6"/>
<line x1="874.20" y1="219.80" x2="883.00" y2="219.80" stroke="#686868" stroke-width="1.6"/>
<rect x="883.00" y="216.30" width="18.80" height="7.00" fill="#ffffff" stroke="#2a32e6" stroke-width="1.3"/>
<text transform="translate(885.40 222.27) scale(0.8758 1)" font-family='"Liberation Sans", sans-serif' font-size="6.90" font-weight="normal" fill="#3a3aa0" stroke="#3a3aa0" stroke-width="0.1">100Ω</text>
<text transform="translate(882.80 214.37) scale(0.9072 1)" font-family='"Liberation Sans", sans-serif' font-size="6.90" font-weight="normal" fill="#3a3aa0" stroke="#3a3aa0" stroke-width="0.25">R6</text>
<line x1="901.80" y1="219.80" x2="910.00" y2="219.80" stroke="#686868" stroke-width="1.6"/>
<line x1="910.00" y1="219.80" x2="932.80" y2="219.80" stroke="#6262b6" stroke-width="1.6"/>
<text transform="translate(932.80 222.27) scale(1.0597 1)" font-family='"Liberation Sans", sans-serif' font-size="6.90" font-weight="normal" fill="#a24a3c" stroke="#a24a3c" stroke-width="0.25">1-</text>
<polyline points="765.30,183.80 752.20,183.80 752.20,229.10" fill="none" stroke="#6262b6" stroke-width="1.6" stroke-linejoin="miter"/>
<line x1="757.10" y1="201.90" x2="757.10" y2="238.00" stroke="#6262b6" stroke-width="1.6"/>
<line x1="757.10" y1="238.00" x2="765.30" y2="238.00" stroke="#6262b6" stroke-width="1.6"/>
<line x1="752.20" y1="219.80" x2="793.20" y2="219.80" stroke="#6262b6" stroke-width="1.6"/>
<line x1="757.10" y1="202.00" x2="793.20" y2="202.00" stroke="#6262b6" stroke-width="1.6"/>
<polyline points="422.50,201.90 422.50,296.60 667.00,296.60" fill="none" stroke="#6262b6" stroke-width="1.6" stroke-linejoin="miter"/>
<polyline points="458.40,201.90 458.40,323.80 667.00,323.80" fill="none" stroke="#6262b6" stroke-width="1.6" stroke-linejoin="miter"/>
<line x1="667.00" y1="296.60" x2="675.10" y2="296.60" stroke="#686868" stroke-width="1.6"/>
<rect x="675.10" y="293.10" width="18.60" height="7.00" fill="#ffffff" stroke="#2a32e6" stroke-width="1.3"/>
<text transform="translate(677.40 299.07) scale(0.8998 1)" font-family='"Liberation Sans", sans-serif' font-size="6.90" font-weight="normal" fill="#3a3aa0" stroke="#3a3aa0" stroke-width="0.1">1kΩ</text>
<text transform="translate(675.00 291.07) scale(0.9088 1)" font-family='"Liberation Sans", sans-serif' font-size="6.90" font-weight="normal" fill="#3a3aa0" stroke="#3a3aa0" stroke-width="0.25">R10</text>
<line x1="693.70" y1="296.60" x2="700.00" y2="296.60" stroke="#686868" stroke-width="1.6"/>
<line x1="667.00" y1="323.80" x2="675.10" y2="323.80" stroke="#686868" stroke-width="1.6"/>
<rect x="675.10" y="320.30" width="18.60" height="7.00" fill="#ffffff" stroke="#2a32e6" stroke-width="1.3"/>
<text transform="translate(677.40 326.27) scale(0.8998 1)" font-family='"Liberation Sans", sans-serif' font-size="6.90" font-weight="normal" fill="#3a3aa0" stroke="#3a3aa0" stroke-width="0.1">1kΩ</text>
<text transform="translate(675.00 318.27) scale(0.9088 1)" font-family='"Liberation Sans", sans-serif' font-size="6.90" font-weight="normal" fill="#3a3aa0" stroke="#3a3aa0" stroke-width="0.25">R13</text>
<line x1="693.70" y1="323.80" x2="700.00" y2="323.80" stroke="#686868" stroke-width="1.6"/>
<line x1="700.00" y1="296.60" x2="792.60" y2="296.60" stroke="#6262b6" stroke-width="1.6"/>
<line x1="700.00" y1="323.80" x2="792.60" y2="323.80" stroke="#6262b6" stroke-width="1.6"/>
<line x1="711.60" y1="296.60" x2="711.60" y2="308.30" stroke="#686868" stroke-width="1.6"/>
<line x1="711.60" y1="312.00" x2="711.60" y2="323.80" stroke="#686868" stroke-width="1.6"/>
<line x1="704.35" y1="308.30" x2="718.85" y2="308.30" stroke="#2a32e6" stroke-width="1.35"/>
<line x1="704.35" y1="312.00" x2="718.85" y2="312.00" stroke="#2a32e6" stroke-width="1.35"/>
<text transform="translate(714.50 305.97) scale(0.9088 1)" font-family='"Liberation Sans", sans-serif' font-size="6.90" font-weight="normal" fill="#3a3aa0" stroke="#3a3aa0" stroke-width="0.25">C13</text>
<text transform="translate(714.50 320.37) scale(0.9069 1)" font-family='"Liberation Sans", sans-serif' font-size="6.90" font-weight="normal" fill="#3a3aa0" stroke="#3a3aa0" stroke-width="0.25">0.5pF</text>
<polygon points="810.8,292.40 810.8,327.00 846.9,309.70" fill="none" stroke="#2a32e6" stroke-width="1.4"/>
<line x1="814.60" y1="301.30" x2="820.20" y2="301.30" stroke="#2a32e6" stroke-width="1.2"/>
<line x1="817.40" y1="298.50" x2="817.40" y2="304.10" stroke="#2a32e6" stroke-width="1.2"/>
<line x1="814.20" y1="319.00" x2="820.60" y2="319.00" stroke="#2a32e6" stroke-width="1.2"/>
<line x1="783.70" y1="283.00" x2="806.40" y2="283.00" stroke="#686868" stroke-width="1.6"/>
<polygon points="805.80,280.80 810.40,283.00 805.80,285.20" fill="#ffffff" stroke="#686868" stroke-width="1.0"/>
<line x1="793.20" y1="301.30" x2="806.40" y2="301.30" stroke="#686868" stroke-width="1.6"/>
<polygon points="805.80,299.10 810.40,301.30 805.80,303.50" fill="#ffffff" stroke="#686868" stroke-width="1.0"/>
<line x1="793.20" y1="319.00" x2="806.40" y2="319.00" stroke="#686868" stroke-width="1.6"/>
<polygon points="805.80,316.80 810.40,319.00 805.80,321.20" fill="#ffffff" stroke="#686868" stroke-width="1.0"/>
<line x1="783.70" y1="337.20" x2="806.40" y2="337.20" stroke="#686868" stroke-width="1.6"/>
<polygon points="805.80,335.00 810.40,337.20 805.80,339.40" fill="#ffffff" stroke="#686868" stroke-width="1.0"/>
<line x1="793.00" y1="346.10" x2="810.40" y2="346.10" stroke="#686868" stroke-width="1.6"/>
<line x1="810.40" y1="283.00" x2="816.10" y2="293.40" stroke="#2a32e6" stroke-width="1.3"/>
<line x1="810.40" y1="337.20" x2="821.20" y2="323.20" stroke="#2a32e6" stroke-width="1.3"/>
<line x1="810.40" y1="346.10" x2="821.80" y2="323.90" stroke="#2a32e6" stroke-width="1.3"/>
<text transform="translate(799.22 281.74)" font-family='"Liberation Sans", sans-serif' font-size="8.20" font-weight="normal" fill="#333333" stroke="#333333" stroke-width="0.15">4</text>
<text transform="translate(799.22 299.84)" font-family='"Liberation Sans", sans-serif' font-size="8.20" font-weight="normal" fill="#333333" stroke="#333333" stroke-width="0.15">2</text>
<text transform="translate(799.22 317.94)" font-family='"Liberation Sans", sans-serif' font-size="8.20" font-weight="normal" fill="#333333" stroke="#333333" stroke-width="0.15">3</text>
<text transform="translate(801.22 335.64)" font-family='"Liberation Sans", sans-serif' font-size="8.20" font-weight="normal" fill="#333333" stroke="#333333" stroke-width="0.15">1</text>
<text transform="translate(795.24 344.84)" font-family='"Liberation Sans", sans-serif' font-size="8.20" font-weight="normal" fill="#333333" stroke="#333333" stroke-width="0.15">12</text>
<text transform="translate(854.44 300.34)" font-family='"Liberation Sans", sans-serif' font-size="8.20" font-weight="normal" fill="#333333" stroke="#333333" stroke-width="0.15">10</text>
<text transform="translate(854.74 318.44)" font-family='"Liberation Sans", sans-serif' font-size="8.20" font-weight="normal" fill="#333333" stroke="#333333" stroke-width="0.15">11</text>
<text transform="translate(810.40 279.37) scale(0.8942 1)" font-family='"Liberation Sans", sans-serif' font-size="6.90" font-weight="normal" fill="#3a3aa0" stroke="#3a3aa0" stroke-width="0.25">U3A</text>
<text transform="translate(824.80 331.47) scale(0.9234 1)" font-family='"Liberation Sans", sans-serif' font-size="6.90" font-weight="normal" fill="#3a3aa0" stroke="#3a3aa0" stroke-width="0.25">ADA4940-1ACPZ-R7</text>
<rect x="765.30" y="279.50" width="18.40" height="7.00" fill="#ffffff" stroke="#2a32e6" stroke-width="1.3"/>
<text transform="translate(767.00 285.47) scale(0.9211 1)" font-family='"Liberation Sans", sans-serif' font-size="6.90" font-weight="normal" fill="#3a3aa0" stroke="#3a3aa0" stroke-width="0.1">10kΩ</text>
<text transform="translate(765.30 277.47) scale(0.9072 1)" font-family='"Liberation Sans", sans-serif' font-size="6.90" font-weight="normal" fill="#3a3aa0" stroke="#3a3aa0" stroke-width="0.25">R9</text>
<rect x="765.30" y="333.70" width="18.40" height="7.00" fill="#ffffff" stroke="#2a32e6" stroke-width="1.3"/>
<text transform="translate(767.00 339.67) scale(0.9211 1)" font-family='"Liberation Sans", sans-serif' font-size="6.90" font-weight="normal" fill="#3a3aa0" stroke="#3a3aa0" stroke-width="0.1">10kΩ</text>
<text transform="translate(765.30 331.67) scale(0.9088 1)" font-family='"Liberation Sans", sans-serif' font-size="6.90" font-weight="normal" fill="#3a3aa0" stroke="#3a3aa0" stroke-width="0.25">R14</text>
<line x1="829.50" y1="301.10" x2="847.30" y2="301.10" stroke="#2a32e6" stroke-width="1.4"/>
<line x1="847.30" y1="301.10" x2="864.80" y2="301.10" stroke="#686868" stroke-width="1.6"/>
<line x1="864.80" y1="301.10" x2="874.20" y2="301.10" stroke="#6262b6" stroke-width="1.6"/>
<line x1="874.20" y1="301.10" x2="883.00" y2="301.10" stroke="#686868" stroke-width="1.6"/>
<rect x="883.00" y="297.60" width="18.80" height="7.00" fill="#ffffff" stroke="#2a32e6" stroke-width="1.3"/>
<text transform="translate(885.40 303.57) scale(0.8758 1)" font-family='"Liberation Sans", sans-serif' font-size="6.90" font-weight="normal" fill="#3a3aa0" stroke="#3a3aa0" stroke-width="0.1">100Ω</text>
<text transform="translate(882.80 295.67) scale(0.9470 1)" font-family='"Liberation Sans", sans-serif' font-size="6.90" font-weight="normal" fill="#3a3aa0" stroke="#3a3aa0" stroke-width="0.25">R11</text>
<line x1="901.80" y1="301.10" x2="910.00" y2="301.10" stroke="#686868" stroke-width="1.6"/>
<line x1="910.00" y1="301.10" x2="932.80" y2="301.10" stroke="#6262b6" stroke-width="1.6"/>
<text transform="translate(932.80 303.57) scale(0.8263 1)" font-family='"Liberation Sans", sans-serif' font-size="6.90" font-weight="normal" fill="#a24a3c" stroke="#a24a3c" stroke-width="0.25">2+</text>
<line x1="829.50" y1="319.00" x2="847.30" y2="319.00" stroke="#2a32e6" stroke-width="1.4"/>
<line x1="847.30" y1="319.00" x2="864.80" y2="319.00" stroke="#686868" stroke-width="1.6"/>
<line x1="864.80" y1="319.00" x2="874.20" y2="319.00" stroke="#6262b6" stroke-width="1.6"/>
<line x1="874.20" y1="319.00" x2="883.00" y2="319.00" stroke="#686868" stroke-width="1.6"/>
<rect x="883.00" y="315.50" width="18.80" height="7.00" fill="#ffffff" stroke="#2a32e6" stroke-width="1.3"/>
<text transform="translate(885.40 321.47) scale(0.8758 1)" font-family='"Liberation Sans", sans-serif' font-size="6.90" font-weight="normal" fill="#3a3aa0" stroke="#3a3aa0" stroke-width="0.1">100Ω</text>
<text transform="translate(882.80 313.57) scale(0.9088 1)" font-family='"Liberation Sans", sans-serif' font-size="6.90" font-weight="normal" fill="#3a3aa0" stroke="#3a3aa0" stroke-width="0.25">R12</text>
<line x1="901.80" y1="319.00" x2="910.00" y2="319.00" stroke="#686868" stroke-width="1.6"/>
<line x1="910.00" y1="319.00" x2="932.80" y2="319.00" stroke="#6262b6" stroke-width="1.6"/>
<text transform="translate(932.80 321.47) scale(1.0597 1)" font-family='"Liberation Sans", sans-serif' font-size="6.90" font-weight="normal" fill="#a24a3c" stroke="#a24a3c" stroke-width="0.25">2-</text>
<polyline points="765.20,283.00 752.30,283.00 752.30,323.80" fill="none" stroke="#6262b6" stroke-width="1.6" stroke-linejoin="miter"/>
<polyline points="756.70,296.60 756.70,337.20 765.20,337.20" fill="none" stroke="#6262b6" stroke-width="1.6" stroke-linejoin="miter"/>
<polyline points="792.60,296.60 792.60,301.30 794.00,301.30" fill="none" stroke="#6262b6" stroke-width="1.6" stroke-linejoin="miter"/>
<polyline points="792.60,323.80 792.60,319.00 794.00,319.00" fill="none" stroke="#6262b6" stroke-width="1.6" stroke-linejoin="miter"/>
<line x1="56.40" y1="405.30" x2="66.40" y2="405.30" stroke="#a24a3c" stroke-width="1.1"/>
<text transform="translate(58.50 404.16) scale(0.9885 1)" font-family='"Liberation Sans", sans-serif' font-size="6.60" font-weight="normal" fill="#a24a3c" stroke="#a24a3c" stroke-width="0.25">-5</text>
<line x1="61.40" y1="405.30" x2="61.40" y2="414.00" stroke="#a24a3c" stroke-width="1.6"/>
<line x1="61.40" y1="414.00" x2="61.40" y2="425.70" stroke="#686868" stroke-width="1.6"/>
<path d="M54,423.4 Q61.40,428.0 68.8,423.4" fill="none" stroke="#2a32e6" stroke-width="1.5"/>
<line x1="54.00" y1="429.40" x2="68.80" y2="429.40" stroke="#2a32e6" stroke-width="1.5"/>
<line x1="61.40" y1="429.40" x2="61.40" y2="441.60" stroke="#686868" stroke-width="1.6"/>
<line x1="61.40" y1="441.60" x2="61.40" y2="450.20" stroke="#a24a3c" stroke-width="1.6"/>
<line x1="51.90" y1="450.20" x2="70.90" y2="450.20" stroke="#a24a3c" stroke-width="1.1"/>
<line x1="54.60" y1="453.10" x2="68.20" y2="453.10" stroke="#a24a3c" stroke-width="1.0"/>
<line x1="57.30" y1="455.80" x2="65.50" y2="455.80" stroke="#a24a3c" stroke-width="1.0"/>
<line x1="60.10" y1="458.50" x2="62.70" y2="458.50" stroke="#a24a3c" stroke-width="1.0"/>
<text transform="translate(54.40 464.96)" font-family='"Liberation Sans", sans-serif' font-size="6.30" font-weight="normal" fill="#a24a3c" stroke="#a24a3c" stroke-width="0.25">GND</text>
<line x1="54.60" y1="434.70" x2="59.20" y2="434.70" stroke="#2a32e6" stroke-width="1.1"/>
<line x1="56.90" y1="432.40" x2="56.90" y2="437.00" stroke="#2a32e6" stroke-width="1.1"/>
<text transform="translate(69.60 430.27) scale(0.9009 1)" font-family='"Liberation Sans", sans-serif' font-size="6.90" font-weight="normal" fill="#3a3aa0" stroke="#3a3aa0" stroke-width="0.25">C17</text>
<text transform="translate(64.00 439.77) scale(0.9305 1)" font-family='"Liberation Sans", sans-serif' font-size="6.90" font-weight="normal" fill="#3a3aa0" stroke="#3a3aa0" stroke-width="0.25">820µF 6.3V 22mΩ</text>
<line x1="128.70" y1="405.30" x2="138.70" y2="405.30" stroke="#a24a3c" stroke-width="1.1"/>
<text transform="translate(130.00 404.16) scale(0.9835 1)" font-family='"Liberation Sans", sans-serif' font-size="6.60" font-weight="normal" fill="#a24a3c" stroke="#a24a3c" stroke-width="0.25">+5</text>
<line x1="133.70" y1="405.30" x2="133.70" y2="414.00" stroke="#a24a3c" stroke-width="1.6"/>
<line x1="133.70" y1="414.00" x2="133.70" y2="425.90" stroke="#686868" stroke-width="1.6"/>
<line x1="126.10" y1="425.90" x2="141.10" y2="425.90" stroke="#2a32e6" stroke-width="1.5"/>
<path d="M126.1,431.6 Q133.70,426.8 141.1,431.6" fill="none" stroke="#2a32e6" stroke-width="1.5"/>
<line x1="133.70" y1="429.20" x2="133.70" y2="441.60" stroke="#686868" stroke-width="1.6"/>
<line x1="133.70" y1="441.60" x2="133.70" y2="450.20" stroke="#a24a3c" stroke-width="1.6"/>
<line x1="124.20" y1="450.20" x2="143.20" y2="450.20" stroke="#a24a3c" stroke-width="1.1"/>
<line x1="126.90" y1="453.10" x2="140.50" y2="453.10" stroke="#a24a3c" stroke-width="1.0"/>
<line x1="129.60" y1="455.80" x2="137.80" y2="455.80" stroke="#a24a3c" stroke-width="1.0"/>
<line x1="132.40" y1="458.50" x2="135.00" y2="458.50" stroke="#a24a3c" stroke-width="1.0"/>
<text transform="translate(126.70 464.96)" font-family='"Liberation Sans", sans-serif' font-size="6.30" font-weight="normal" fill="#a24a3c" stroke="#a24a3c" stroke-width="0.25">GND</text>
<line x1="136.00" y1="420.90" x2="140.60" y2="420.90" stroke="#2a32e6" stroke-width="1.1"/>
<line x1="138.30" y1="418.60" x2="138.30" y2="423.20" stroke="#2a32e6" stroke-width="1.1"/>
<text transform="translate(142.70 426.57) scale(0.9009 1)" font-family='"Liberation Sans", sans-serif' font-size="6.90" font-weight="normal" fill="#3a3aa0" stroke="#3a3aa0" stroke-width="0.25">C16</text>
<text transform="translate(136.20 439.77) scale(0.9305 1)" font-family='"Liberation Sans", sans-serif' font-size="6.90" font-weight="normal" fill="#3a3aa0" stroke="#3a3aa0" stroke-width="0.25">820µF 6.3V 22mΩ</text>
<rect x="84.00" y="545.10" width="36.00" height="62.90" fill="none" stroke="#2a32e6" stroke-width="1.3"/>
<text transform="translate(82.90 542.97) scale(0.8509 1)" font-family='"Liberation Sans", sans-serif' font-size="6.90" font-weight="normal" fill="#3a3aa0" stroke="#3a3aa0" stroke-width="0.25">J1</text>
<line x1="66.00" y1="554.00" x2="84.00" y2="554.00" stroke="#686868" stroke-width="1.6"/>
<line x1="84.00" y1="554.00" x2="90.80" y2="554.00" stroke="#2a32e6" stroke-width="1.2"/>
<circle cx="93.2" cy="554" r="2.4" fill="#fff" stroke="#2a32e6" stroke-width="1.2"/>
<circle cx="111.1" cy="554" r="2.4" fill="#fff" stroke="#2a32e6" stroke-width="1.2"/>
<line x1="113.50" y1="554.00" x2="120.00" y2="554.00" stroke="#2a32e6" stroke-width="1.2"/>
<line x1="120.00" y1="554.00" x2="138.50" y2="554.00" stroke="#686868" stroke-width="1.6"/>
<text transform="translate(72.72 552.54)" font-family='"Liberation Sans", sans-serif' font-size="8.20" font-weight="normal" fill="#333333" stroke="#333333" stroke-width="0.15">2</text>
<text transform="translate(127.32 552.54)" font-family='"Liberation Sans", sans-serif' font-size="8.20" font-weight="normal" fill="#333333" stroke="#333333" stroke-width="0.15">1</text>
<line x1="66.00" y1="563.00" x2="84.00" y2="563.00" stroke="#686868" stroke-width="1.6"/>
<line x1="84.00" y1="563.00" x2="90.80" y2="563.00" stroke="#2a32e6" stroke-width="1.2"/>
<circle cx="93.2" cy="563" r="2.4" fill="#fff" stroke="#2a32e6" stroke-width="1.2"/>
<circle cx="111.1" cy="563" r="2.4" fill="#fff" stroke="#2a32e6" stroke-width="1.2"/>
<line x1="113.50" y1="563.00" x2="120.00" y2="563.00" stroke="#2a32e6" stroke-width="1.2"/>
<line x1="120.00" y1="563.00" x2="138.50" y2="563.00" stroke="#686868" stroke-width="1.6"/>
<text transform="translate(72.72 561.54)" font-family='"Liberation Sans", sans-serif' font-size="8.20" font-weight="normal" fill="#333333" stroke="#333333" stroke-width="0.15">4</text>
<text transform="translate(127.32 561.54)" font-family='"Liberation Sans", sans-serif' font-size="8.20" font-weight="normal" fill="#333333" stroke="#333333" stroke-width="0.15">3</text>
<line x1="66.00" y1="572.00" x2="84.00" y2="572.00" stroke="#686868" stroke-width="1.6"/>
<line x1="84.00" y1="572.00" x2="90.80" y2="572.00" stroke="#2a32e6" stroke-width="1.2"/>
<circle cx="93.2" cy="572" r="2.4" fill="#fff" stroke="#2a32e6" stroke-width="1.2"/>
<circle cx="111.1" cy="572" r="2.4" fill="#fff" stroke="#2a32e6" stroke-width="1.2"/>
<line x1="113.50" y1="572.00" x2="120.00" y2="572.00" stroke="#2a32e6" stroke-width="1.2"/>
<line x1="120.00" y1="572.00" x2="138.50" y2="572.00" stroke="#686868" stroke-width="1.6"/>
<text transform="translate(72.72 570.54)" font-family='"Liberation Sans", sans-serif' font-size="8.20" font-weight="normal" fill="#333333" stroke="#333333" stroke-width="0.15">6</text>
<text transform="translate(127.32 570.54)" font-family='"Liberation Sans", sans-serif' font-size="8.20" font-weight="normal" fill="#333333" stroke="#333333" stroke-width="0.15">5</text>
<line x1="66.00" y1="581.00" x2="84.00" y2="581.00" stroke="#686868" stroke-width="1.6"/>
<line x1="84.00" y1="581.00" x2="90.80" y2="581.00" stroke="#2a32e6" stroke-width="1.2"/>
<circle cx="93.2" cy="581" r="2.4" fill="#fff" stroke="#2a32e6" stroke-width="1.2"/>
<circle cx="111.1" cy="581" r="2.4" fill="#fff" stroke="#2a32e6" stroke-width="1.2"/>
<line x1="113.50" y1="581.00" x2="120.00" y2="581.00" stroke="#2a32e6" stroke-width="1.2"/>
<line x1="120.00" y1="581.00" x2="138.50" y2="581.00" stroke="#686868" stroke-width="1.6"/>
<text transform="translate(72.72 579.54)" font-family='"Liberation Sans", sans-serif' font-size="8.20" font-weight="normal" fill="#333333" stroke="#333333" stroke-width="0.15">8</text>
<text transform="translate(127.32 579.54)" font-family='"Liberation Sans", sans-serif' font-size="8.20" font-weight="normal" fill="#333333" stroke="#333333" stroke-width="0.15">7</text>
<line x1="66.00" y1="590.00" x2="84.00" y2="590.00" stroke="#686868" stroke-width="1.6"/>
<line x1="84.00" y1="590.00" x2="90.80" y2="590.00" stroke="#2a32e6" stroke-width="1.2"/>
<circle cx="93.2" cy="590" r="2.4" fill="#fff" stroke="#2a32e6" stroke-width="1.2"/>
<circle cx="111.1" cy="590" r="2.4" fill="#fff" stroke="#2a32e6" stroke-width="1.2"/>
<line x1="113.50" y1="590.00" x2="120.00" y2="590.00" stroke="#2a32e6" stroke-width="1.2"/>
<line x1="120.00" y1="590.00" x2="138.50" y2="590.00" stroke="#686868" stroke-width="1.6"/>
<text transform="translate(70.44 588.54)" font-family='"Liberation Sans", sans-serif' font-size="8.20" font-weight="normal" fill="#333333" stroke="#333333" stroke-width="0.15">10</text>
<text transform="translate(127.32 588.54)" font-family='"Liberation Sans", sans-serif' font-size="8.20" font-weight="normal" fill="#333333" stroke="#333333" stroke-width="0.15">9</text>
<line x1="66.00" y1="599.00" x2="84.00" y2="599.00" stroke="#686868" stroke-width="1.6"/>
<line x1="84.00" y1="599.00" x2="90.80" y2="599.00" stroke="#2a32e6" stroke-width="1.2"/>
<circle cx="93.2" cy="599" r="2.4" fill="#fff" stroke="#2a32e6" stroke-width="1.2"/>
<circle cx="111.1" cy="599" r="2.4" fill="#fff" stroke="#2a32e6" stroke-width="1.2"/>
<line x1="113.50" y1="599.00" x2="120.00" y2="599.00" stroke="#2a32e6" stroke-width="1.2"/>
<line x1="120.00" y1="599.00" x2="138.50" y2="599.00" stroke="#686868" stroke-width="1.6"/>
<text transform="translate(70.44 597.54)" font-family='"Liberation Sans", sans-serif' font-size="8.20" font-weight="normal" fill="#333333" stroke="#333333" stroke-width="0.15">12</text>
<text transform="translate(125.34 597.54)" font-family='"Liberation Sans", sans-serif' font-size="8.20" font-weight="normal" fill="#333333" stroke="#333333" stroke-width="0.15">11</text>
<line x1="47.80" y1="554.00" x2="66.00" y2="554.00" stroke="#6262b6" stroke-width="1.6"/>
<line x1="47.80" y1="554.00" x2="47.80" y2="609.00" stroke="#6262b6" stroke-width="1.6"/>
<line x1="47.80" y1="609.00" x2="47.80" y2="616.90" stroke="#a24a3c" stroke-width="1.6"/>
<line x1="47.80" y1="581.00" x2="66.00" y2="581.00" stroke="#6262b6" stroke-width="1.6"/>
<line x1="38.30" y1="616.90" x2="57.30" y2="616.90" stroke="#a24a3c" stroke-width="1.1"/>
<line x1="41.00" y1="619.80" x2="54.60" y2="619.80" stroke="#a24a3c" stroke-width="1.0"/>
<line x1="43.70" y1="622.50" x2="51.90" y2="622.50" stroke="#a24a3c" stroke-width="1.0"/>
<line x1="46.50" y1="625.20" x2="49.10" y2="625.20" stroke="#a24a3c" stroke-width="1.0"/>
<text transform="translate(40.80 631.66)" font-family='"Liberation Sans", sans-serif' font-size="6.30" font-weight="normal" fill="#a24a3c" stroke="#a24a3c" stroke-width="0.25">GND</text>
<line x1="33.90" y1="554.00" x2="43.90" y2="554.00" stroke="#a24a3c" stroke-width="1.1"/>
<text transform="translate(35.20 552.86) scale(0.9835 1)" font-family='"Liberation Sans", sans-serif' font-size="6.60" font-weight="normal" fill="#a24a3c" stroke="#a24a3c" stroke-width="0.25">+5</text>
<line x1="38.90" y1="554.00" x2="38.90" y2="562.70" stroke="#a24a3c" stroke-width="1.6"/>
<polyline points="38.90,562.70 38.90,572.00 66.00,572.00" fill="none" stroke="#6262b6" stroke-width="1.6" stroke-linejoin="miter"/>
<text transform="translate(57.30 562.37) scale(0.8406 1)" font-family='"Liberation Sans", sans-serif' font-size="6.90" font-weight="normal" fill="#a24a3c" stroke="#a24a3c" stroke-width="0.25">W1</text>
<text transform="translate(58.80 589.07) scale(0.8263 1)" font-family='"Liberation Sans", sans-serif' font-size="6.90" font-weight="normal" fill="#a24a3c" stroke="#a24a3c" stroke-width="0.25">2+</text>
<text transform="translate(59.60 597.97) scale(0.7374 1)" font-family='"Liberation Sans", sans-serif' font-size="6.90" font-weight="normal" fill="#a24a3c" stroke="#a24a3c" stroke-width="0.25">1+</text>
<line x1="138.50" y1="554.00" x2="156.00" y2="554.00" stroke="#6262b6" stroke-width="1.6"/>
<line x1="156.00" y1="554.00" x2="156.00" y2="609.00" stroke="#6262b6" stroke-width="1.6"/>
<line x1="156.00" y1="609.00" x2="156.00" y2="616.90" stroke="#a24a3c" stroke-width="1.6"/>
<line x1="138.50" y1="581.00" x2="156.00" y2="581.00" stroke="#6262b6" stroke-width="1.6"/>
<line x1="146.50" y1="616.90" x2="165.50" y2="616.90" stroke="#a24a3c" stroke-width="1.1"/>
<line x1="149.20" y1="619.80" x2="162.80" y2="619.80" stroke="#a24a3c" stroke-width="1.0"/>
<line x1="151.90" y1="622.50" x2="160.10" y2="622.50" stroke="#a24a3c" stroke-width="1.0"/>
<line x1="154.70" y1="625.20" x2="157.30" y2="625.20" stroke="#a24a3c" stroke-width="1.0"/>
<text transform="translate(149.00 631.66)" font-family='"Liberation Sans", sans-serif' font-size="6.30" font-weight="normal" fill="#a24a3c" stroke="#a24a3c" stroke-width="0.25">GND</text>
<polyline points="138.50,572.00 165.20,572.00 165.20,582.40" fill="none" stroke="#6262b6" stroke-width="1.6" stroke-linejoin="miter"/>
<line x1="165.20" y1="582.40" x2="165.20" y2="590.10" stroke="#a24a3c" stroke-width="1.6"/>
<line x1="160.20" y1="590.10" x2="170.20" y2="590.10" stroke="#a24a3c" stroke-width="1.1"/>
<text transform="translate(162.30 596.46) scale(0.9885 1)" font-family='"Liberation Sans", sans-serif' font-size="6.60" font-weight="normal" fill="#a24a3c" stroke="#a24a3c" stroke-width="0.25">-5</text>
<text transform="translate(138.20 589.37) scale(0.9455 1)" font-family='"Liberation Sans", sans-serif' font-size="6.90" font-weight="normal" fill="#a24a3c" stroke="#a24a3c" stroke-width="0.25">2-</text>
<text transform="translate(138.50 598.17) scale(0.8151 1)" font-family='"Liberation Sans", sans-serif' font-size="6.90" font-weight="normal" fill="#a24a3c" stroke="#a24a3c" stroke-width="0.25">1-</text>
<rect x="296.40" y="414.30" width="108.10" height="135.20" fill="#fffbb8" stroke="#b0523a" stroke-width="1.3"/>
<text transform="translate(296.60 413.17) scale(0.9639 1)" font-family='"Liberation Sans", sans-serif' font-size="6.90" font-weight="normal" fill="#3a3aa0" stroke="#3a3aa0" stroke-width="0.25">U4</text>
<text transform="translate(296.40 557.47) scale(0.9373 1)" font-family='"Liberation Sans", sans-serif' font-size="6.90" font-weight="normal" fill="#3a3aa0" stroke="#3a3aa0" stroke-width="0.25">TPS7A3901DSCR</text>
<line x1="277.90" y1="423.00" x2="296.40" y2="423.00" stroke="#686868" stroke-width="1.6"/>
<polygon points="291.60,420.80 296.20,423.00 291.60,425.20" fill="#ffffff" stroke="#686868" stroke-width="1.0"/>
<text transform="translate(302.60 425.71)" font-family='"Liberation Serif", serif' font-size="8.20" font-weight="normal" fill="#3a3a3a" stroke="#3a3a3a" stroke-width="0.12">INP</text>
<text transform="translate(285.35 421.71)" font-family='"Liberation Serif", serif' font-size="8.20" font-weight="normal" fill="#3a3a3a" stroke="#3a3a3a" stroke-width="0.12">1</text>
<line x1="277.90" y1="450.20" x2="296.40" y2="450.20" stroke="#686868" stroke-width="1.6"/>
<text transform="translate(302.60 452.91)" font-family='"Liberation Serif", serif' font-size="8.20" font-weight="normal" fill="#3a3a3a" stroke="#3a3a3a" stroke-width="0.12">NR/SS</text>
<text transform="translate(285.35 448.91)" font-family='"Liberation Serif", serif' font-size="8.20" font-weight="normal" fill="#3a3a3a" stroke="#3a3a3a" stroke-width="0.12">3</text>
<line x1="277.90" y1="477.30" x2="296.40" y2="477.30" stroke="#686868" stroke-width="1.6"/>
<polygon points="291.60,475.10 296.20,477.30 291.60,479.50" fill="#ffffff" stroke="#686868" stroke-width="1.0"/>
<text transform="translate(302.60 480.01)" font-family='"Liberation Serif", serif' font-size="8.20" font-weight="normal" fill="#3a3a3a" stroke="#3a3a3a" stroke-width="0.12">EN</text>
<text transform="translate(285.35 476.01)" font-family='"Liberation Serif", serif' font-size="8.20" font-weight="normal" fill="#3a3a3a" stroke="#3a3a3a" stroke-width="0.12">2</text>
<line x1="277.90" y1="504.40" x2="296.40" y2="504.40" stroke="#686868" stroke-width="1.6"/>
<polygon points="291.60,502.20 296.20,504.40 291.60,506.60" fill="#ffffff" stroke="#686868" stroke-width="1.0"/>
<text transform="translate(302.60 507.11)" font-family='"Liberation Serif", serif' font-size="8.20" font-weight="normal" fill="#3a3a3a" stroke="#3a3a3a" stroke-width="0.12">INN</text>
<text transform="translate(285.35 503.11)" font-family='"Liberation Serif", serif' font-size="8.20" font-weight="normal" fill="#3a3a3a" stroke="#3a3a3a" stroke-width="0.12">5</text>
<line x1="277.90" y1="531.50" x2="296.40" y2="531.50" stroke="#686868" stroke-width="1.6"/>
<text transform="translate(302.60 534.21)" font-family='"Liberation Serif", serif' font-size="8.20" font-weight="normal" fill="#3a3a3a" stroke="#3a3a3a" stroke-width="0.12">Thermal Pad</text>
<text transform="translate(283.45 530.21)" font-family='"Liberation Serif", serif' font-size="8.20" font-weight="normal" fill="#3a3a3a" stroke="#3a3a3a" stroke-width="0.12">11</text>
<line x1="277.90" y1="540.60" x2="296.40" y2="540.60" stroke="#686868" stroke-width="1.6"/>
<text transform="translate(302.60 543.31)" font-family='"Liberation Serif", serif' font-size="8.20" font-weight="normal" fill="#3a3a3a" stroke="#3a3a3a" stroke-width="0.12">GND</text>
<text transform="translate(285.35 539.31)" font-family='"Liberation Serif", serif' font-size="8.20" font-weight="normal" fill="#3a3a3a" stroke="#3a3a3a" stroke-width="0.12">4</text>
<line x1="404.50" y1="422.90" x2="422.00" y2="422.90" stroke="#686868" stroke-width="1.6"/>
<polygon points="404.00,420.70 408.60,422.90 404.00,425.10" fill="#ffffff" stroke="#686868" stroke-width="1.0"/>
<text transform="translate(376.59 425.61)" font-family='"Liberation Serif", serif' font-size="8.20" font-weight="normal" fill="#3a3a3a" stroke="#3a3a3a" stroke-width="0.12">OUTP</text>
<text transform="translate(410.40 421.41)" font-family='"Liberation Serif", serif' font-size="8.20" font-weight="normal" fill="#3a3a3a" stroke="#3a3a3a" stroke-width="0.12">10</text>
<line x1="404.50" y1="459.30" x2="422.00" y2="459.30" stroke="#686868" stroke-width="1.6"/>
<polygon points="409.30,457.10 404.70,459.30 409.30,461.50" fill="#ffffff" stroke="#686868" stroke-width="1.0"/>
<text transform="translate(383.41 462.01)" font-family='"Liberation Serif", serif' font-size="8.20" font-weight="normal" fill="#3a3a3a" stroke="#3a3a3a" stroke-width="0.12">FBP</text>
<text transform="translate(412.45 457.81)" font-family='"Liberation Serif", serif' font-size="8.20" font-weight="normal" fill="#3a3a3a" stroke="#3a3a3a" stroke-width="0.12">9</text>
<line x1="404.50" y1="468.20" x2="422.00" y2="468.20" stroke="#686868" stroke-width="1.6"/>
<polygon points="404.00,466.00 408.60,468.20 404.00,470.40" fill="#ffffff" stroke="#686868" stroke-width="1.0"/>
<text transform="translate(382.05 470.91)" font-family='"Liberation Serif", serif' font-size="8.20" font-weight="normal" fill="#3a3a3a" stroke="#3a3a3a" stroke-width="0.12">BUF</text>
<text transform="translate(412.45 466.71)" font-family='"Liberation Serif", serif' font-size="8.20" font-weight="normal" fill="#3a3a3a" stroke="#3a3a3a" stroke-width="0.12">8</text>
<line x1="404.50" y1="504.50" x2="422.00" y2="504.50" stroke="#686868" stroke-width="1.6"/>
<polygon points="409.30,502.30 404.70,504.50 409.30,506.70" fill="#ffffff" stroke="#686868" stroke-width="1.0"/>
<text transform="translate(382.05 507.21)" font-family='"Liberation Serif", serif' font-size="8.20" font-weight="normal" fill="#3a3a3a" stroke="#3a3a3a" stroke-width="0.12">FBN</text>
<text transform="translate(412.45 503.01)" font-family='"Liberation Serif", serif' font-size="8.20" font-weight="normal" fill="#3a3a3a" stroke="#3a3a3a" stroke-width="0.12">7</text>
<line x1="404.50" y1="540.40" x2="422.00" y2="540.40" stroke="#686868" stroke-width="1.6"/>
<polygon points="404.00,538.20 408.60,540.40 404.00,542.60" fill="#ffffff" stroke="#686868" stroke-width="1.0"/>
<text transform="translate(375.23 543.11)" font-family='"Liberation Serif", serif' font-size="8.20" font-weight="normal" fill="#3a3a3a" stroke="#3a3a3a" stroke-width="0.12">OUTN</text>
<text transform="translate(412.45 538.91)" font-family='"Liberation Serif", serif' font-size="8.20" font-weight="normal" fill="#3a3a3a" stroke="#3a3a3a" stroke-width="0.12">6</text>
<line x1="264.10" y1="414.30" x2="274.10" y2="414.30" stroke="#a24a3c" stroke-width="1.1"/>
<text transform="translate(265.40 413.16) scale(0.9835 1)" font-family='"Liberation Sans", sans-serif' font-size="6.60" font-weight="normal" fill="#a24a3c" stroke="#a24a3c" stroke-width="0.25">+5</text>
<line x1="269.10" y1="414.30" x2="269.10" y2="420.90" stroke="#a24a3c" stroke-width="1.6"/>
<line x1="214.70" y1="423.10" x2="214.70" y2="435.00" stroke="#686868" stroke-width="1.6"/>
<polyline points="214.70,423.10 277.90,423.10" fill="none" stroke="#6262b6" stroke-width="1.6" stroke-linejoin="miter"/>
<polyline points="269.10,420.90 269.10,477.30 277.90,477.30" fill="none" stroke="#6262b6" stroke-width="1.6" stroke-linejoin="miter"/>
<line x1="207.45" y1="435.00" x2="221.95" y2="435.00" stroke="#2a32e6" stroke-width="1.35"/>
<line x1="207.45" y1="438.60" x2="221.95" y2="438.60" stroke="#2a32e6" stroke-width="1.35"/>
<line x1="214.70" y1="438.60" x2="214.70" y2="450.20" stroke="#686868" stroke-width="1.6"/>
<line x1="214.70" y1="450.20" x2="214.70" y2="458.90" stroke="#a24a3c" stroke-width="1.6"/>
<line x1="205.20" y1="458.90" x2="224.20" y2="458.90" stroke="#a24a3c" stroke-width="1.1"/>
<line x1="207.90" y1="461.80" x2="221.50" y2="461.80" stroke="#a24a3c" stroke-width="1.0"/>
<line x1="210.60" y1="464.50" x2="218.80" y2="464.50" stroke="#a24a3c" stroke-width="1.0"/>
<line x1="213.40" y1="467.20" x2="216.00" y2="467.20" stroke="#a24a3c" stroke-width="1.0"/>
<text transform="translate(207.70 473.66)" font-family='"Liberation Sans", sans-serif' font-size="6.30" font-weight="normal" fill="#a24a3c" stroke="#a24a3c" stroke-width="0.25">GND</text>
<text transform="translate(217.80 430.17) scale(0.9167 1)" font-family='"Liberation Sans", sans-serif' font-size="6.90" font-weight="normal" fill="#3a3aa0" stroke="#3a3aa0" stroke-width="0.25">C24</text>
<text transform="translate(219.40 450.97) scale(0.9157 1)" font-family='"Liberation Sans", sans-serif' font-size="6.90" font-weight="normal" fill="#3a3aa0" stroke="#3a3aa0" stroke-width="0.25">22uF</text>
<line x1="242.00" y1="450.20" x2="242.00" y2="461.90" stroke="#686868" stroke-width="1.6"/>
<line x1="242.00" y1="450.20" x2="277.90" y2="450.20" stroke="#6262b6" stroke-width="1.6"/>
<line x1="234.75" y1="461.90" x2="249.25" y2="461.90" stroke="#2a32e6" stroke-width="1.35"/>
<line x1="234.75" y1="465.50" x2="249.25" y2="465.50" stroke="#2a32e6" stroke-width="1.35"/>
<line x1="242.00" y1="465.50" x2="242.00" y2="477.50" stroke="#686868" stroke-width="1.6"/>
<line x1="242.00" y1="477.50" x2="242.00" y2="486.30" stroke="#a24a3c" stroke-width="1.6"/>
<line x1="232.50" y1="486.30" x2="251.50" y2="486.30" stroke="#a24a3c" stroke-width="1.1"/>
<line x1="235.20" y1="489.20" x2="248.80" y2="489.20" stroke="#a24a3c" stroke-width="1.0"/>
<line x1="237.90" y1="491.90" x2="246.10" y2="491.90" stroke="#a24a3c" stroke-width="1.0"/>
<line x1="240.70" y1="494.60" x2="243.30" y2="494.60" stroke="#a24a3c" stroke-width="1.0"/>
<text transform="translate(235.00 501.06)" font-family='"Liberation Sans", sans-serif' font-size="6.30" font-weight="normal" fill="#a24a3c" stroke="#a24a3c" stroke-width="0.25">GND</text>
<text transform="translate(244.90 458.87) scale(0.9167 1)" font-family='"Liberation Sans", sans-serif' font-size="6.90" font-weight="normal" fill="#3a3aa0" stroke="#3a3aa0" stroke-width="0.25">C27</text>
<text transform="translate(246.30 473.57) scale(0.8946 1)" font-family='"Liberation Sans", sans-serif' font-size="6.90" font-weight="normal" fill="#3a3aa0" stroke="#3a3aa0" stroke-width="0.25">100nF</text>
<line x1="264.10" y1="495.20" x2="274.10" y2="495.20" stroke="#a24a3c" stroke-width="1.1"/>
<text transform="translate(266.20 494.06) scale(0.9885 1)" font-family='"Liberation Sans", sans-serif' font-size="6.60" font-weight="normal" fill="#a24a3c" stroke="#a24a3c" stroke-width="0.25">-5</text>
<line x1="269.10" y1="495.20" x2="269.10" y2="504.40" stroke="#a24a3c" stroke-width="1.6"/>
<line x1="214.70" y1="504.40" x2="214.70" y2="516.00" stroke="#686868" stroke-width="1.6"/>
<line x1="214.70" y1="504.40" x2="277.90" y2="504.40" stroke="#6262b6" stroke-width="1.6"/>
<line x1="207.45" y1="516.00" x2="221.95" y2="516.00" stroke="#2a32e6" stroke-width="1.35"/>
<line x1="207.45" y1="519.90" x2="221.95" y2="519.90" stroke="#2a32e6" stroke-width="1.35"/>
<line x1="214.70" y1="519.90" x2="214.70" y2="530.80" stroke="#686868" stroke-width="1.6"/>
<line x1="214.70" y1="530.80" x2="214.70" y2="540.60" stroke="#a24a3c" stroke-width="1.6"/>
<line x1="205.20" y1="540.60" x2="224.20" y2="540.60" stroke="#a24a3c" stroke-width="1.1"/>
<line x1="207.90" y1="543.50" x2="221.50" y2="543.50" stroke="#a24a3c" stroke-width="1.0"/>
<line x1="210.60" y1="546.20" x2="218.80" y2="546.20" stroke="#a24a3c" stroke-width="1.0"/>
<line x1="213.40" y1="548.90" x2="216.00" y2="548.90" stroke="#a24a3c" stroke-width="1.0"/>
<text transform="translate(207.70 555.36)" font-family='"Liberation Sans", sans-serif' font-size="6.30" font-weight="normal" fill="#a24a3c" stroke="#a24a3c" stroke-width="0.25">GND</text>
<text transform="translate(222.30 518.87) scale(0.9167 1)" font-family='"Liberation Sans", sans-serif' font-size="6.90" font-weight="normal" fill="#3a3aa0" stroke="#3a3aa0" stroke-width="0.25">C28</text>
<text transform="translate(222.30 526.17) scale(0.7949 1)" font-family='"Liberation Sans", sans-serif' font-size="6.90" font-weight="normal" fill="#3a3aa0" stroke="#3a3aa0" stroke-width="0.25">22uF</text>
<polyline points="277.90,531.50 269.10,531.50 269.10,549.80" fill="none" stroke="#6262b6" stroke-width="1.6" stroke-linejoin="miter"/>
<line x1="269.10" y1="549.80" x2="269.10" y2="558.30" stroke="#a24a3c" stroke-width="1.6"/>
<line x1="269.10" y1="540.60" x2="277.90" y2="540.60" stroke="#6262b6" stroke-width="1.6"/>
<line x1="259.60" y1="558.30" x2="278.60" y2="558.30" stroke="#a24a3c" stroke-width="1.1"/>
<line x1="262.30" y1="561.20" x2="275.90" y2="561.20" stroke="#a24a3c" stroke-width="1.0"/>
<line x1="265.00" y1="563.90" x2="273.20" y2="563.90" stroke="#a24a3c" stroke-width="1.0"/>
<line x1="267.80" y1="566.60" x2="270.40" y2="566.60" stroke="#a24a3c" stroke-width="1.0"/>
<text transform="translate(262.10 573.06)" font-family='"Liberation Sans", sans-serif' font-size="6.30" font-weight="normal" fill="#a24a3c" stroke="#a24a3c" stroke-width="0.25">GND</text>
<line x1="422.70" y1="422.90" x2="531.10" y2="422.90" stroke="#6262b6" stroke-width="1.6"/>
<line x1="467.10" y1="405.50" x2="477.10" y2="405.50" stroke="#a24a3c" stroke-width="1.1"/>
<text transform="translate(466.35 404.36) scale(0.8827 1)" font-family='"Liberation Sans", sans-serif' font-size="6.60" font-weight="normal" fill="#a24a3c" stroke="#a24a3c" stroke-width="0.25">+2.5</text>
<line x1="472.10" y1="405.50" x2="472.10" y2="414.00" stroke="#a24a3c" stroke-width="1.6"/>
<line x1="472.10" y1="414.00" x2="472.10" y2="422.90" stroke="#6262b6" stroke-width="1.6"/>
<line x1="472.10" y1="422.90" x2="472.10" y2="459.20" stroke="#686868" stroke-width="1.6"/>
<rect x="468.10" y="432.40" width="8.00" height="18.00" fill="#ffffff" stroke="#2a32e6" stroke-width="1.3"/>
<text transform="translate(476.90 437.77) scale(0.9167 1)" font-family='"Liberation Sans", sans-serif' font-size="6.90" font-weight="normal" fill="#3a3aa0" stroke="#3a3aa0" stroke-width="0.25">R17</text>
<text transform="translate(476.90 445.07) scale(0.8559 1)" font-family='"Liberation Sans", sans-serif' font-size="6.90" font-weight="normal" fill="#3a3aa0" stroke="#3a3aa0" stroke-width="0.25">11kΩ</text>
<line x1="504.00" y1="422.90" x2="504.00" y2="438.90" stroke="#686868" stroke-width="1.6"/>
<line x1="496.75" y1="438.90" x2="511.25" y2="438.90" stroke="#2a32e6" stroke-width="1.35"/>
<line x1="496.75" y1="443.00" x2="511.25" y2="443.00" stroke="#2a32e6" stroke-width="1.35"/>
<line x1="504.00" y1="443.00" x2="504.00" y2="468.20" stroke="#686868" stroke-width="1.6"/>
<text transform="translate(506.90 436.77) scale(0.9167 1)" font-family='"Liberation Sans", sans-serif' font-size="6.90" font-weight="normal" fill="#3a3aa0" stroke="#3a3aa0" stroke-width="0.25">C26</text>
<text transform="translate(508.10 451.37) scale(0.8946 1)" font-family='"Liberation Sans", sans-serif' font-size="6.90" font-weight="normal" fill="#3a3aa0" stroke="#3a3aa0" stroke-width="0.25">100nF</text>
<line x1="422.00" y1="459.20" x2="504.00" y2="459.20" stroke="#6262b6" stroke-width="1.6"/>
<rect x="500.00" y="468.20" width="8.00" height="18.20" fill="#ffffff" stroke="#2a32e6" stroke-width="1.3"/>
<line x1="504.00" y1="486.40" x2="504.00" y2="495.00" stroke="#686868" stroke-width="1.6"/>
<line x1="504.00" y1="495.00" x2="504.00" y2="504.50" stroke="#a24a3c" stroke-width="1.6"/>
<line x1="494.50" y1="504.50" x2="513.50" y2="504.50" stroke="#a24a3c" stroke-width="1.1"/>
<line x1="497.20" y1="507.40" x2="510.80" y2="507.40" stroke="#a24a3c" stroke-width="1.0"/>
<line x1="499.90" y1="510.10" x2="508.10" y2="510.10" stroke="#a24a3c" stroke-width="1.0"/>
<line x1="502.70" y1="512.80" x2="505.30" y2="512.80" stroke="#a24a3c" stroke-width="1.0"/>
<text transform="translate(497.00 519.26)" font-family='"Liberation Sans", sans-serif' font-size="6.30" font-weight="normal" fill="#a24a3c" stroke="#a24a3c" stroke-width="0.25">GND</text>
<text transform="translate(509.10 473.37) scale(0.9167 1)" font-family='"Liberation Sans", sans-serif' font-size="6.90" font-weight="normal" fill="#3a3aa0" stroke="#3a3aa0" stroke-width="0.25">R18</text>
<text transform="translate(509.10 480.67) scale(0.9211 1)" font-family='"Liberation Sans", sans-serif' font-size="6.90" font-weight="normal" fill="#3a3aa0" stroke="#3a3aa0" stroke-width="0.25">10kΩ</text>
<line x1="531.10" y1="422.90" x2="531.10" y2="438.90" stroke="#686868" stroke-width="1.6"/>
<line x1="523.85" y1="438.90" x2="538.35" y2="438.90" stroke="#2a32e6" stroke-width="1.35"/>
<line x1="523.85" y1="443.00" x2="538.35" y2="443.00" stroke="#2a32e6" stroke-width="1.35"/>
<line x1="531.10" y1="443.00" x2="531.10" y2="460.20" stroke="#686868" stroke-width="1.6"/>
<line x1="531.10" y1="460.20" x2="531.10" y2="468.20" stroke="#a24a3c" stroke-width="1.6"/>
<line x1="521.60" y1="468.20" x2="540.60" y2="468.20" stroke="#a24a3c" stroke-width="1.1"/>
<line x1="524.30" y1="471.10" x2="537.90" y2="471.10" stroke="#a24a3c" stroke-width="1.0"/>
<line x1="527.00" y1="473.80" x2="535.20" y2="473.80" stroke="#a24a3c" stroke-width="1.0"/>
<line x1="529.80" y1="476.50" x2="532.40" y2="476.50" stroke="#a24a3c" stroke-width="1.0"/>
<text transform="translate(524.10 482.96)" font-family='"Liberation Sans", sans-serif' font-size="6.30" font-weight="normal" fill="#a24a3c" stroke="#a24a3c" stroke-width="0.25">GND</text>
<text transform="translate(533.60 434.87) scale(0.9167 1)" font-family='"Liberation Sans", sans-serif' font-size="6.90" font-weight="normal" fill="#3a3aa0" stroke="#3a3aa0" stroke-width="0.25">C25</text>
<text transform="translate(535.50 455.77) scale(0.7949 1)" font-family='"Liberation Sans", sans-serif' font-size="6.90" font-weight="normal" fill="#3a3aa0" stroke="#3a3aa0" stroke-width="0.25">22uF</text>
<polyline points="422.00,468.20 431.70,468.20 431.70,477.30" fill="none" stroke="#6262b6" stroke-width="1.6" stroke-linejoin="miter"/>
<line x1="431.70" y1="468.20" x2="431.70" y2="504.50" stroke="#686868" stroke-width="1.6"/>
<rect x="427.70" y="477.30" width="8.00" height="18.30" fill="#ffffff" stroke="#2a32e6" stroke-width="1.3"/>
<text transform="translate(436.60 482.47) scale(0.9167 1)" font-family='"Liberation Sans", sans-serif' font-size="6.90" font-weight="normal" fill="#3a3aa0" stroke="#3a3aa0" stroke-width="0.25">R19</text>
<text transform="translate(436.60 490.07) scale(0.9211 1)" font-family='"Liberation Sans", sans-serif' font-size="6.90" font-weight="normal" fill="#3a3aa0" stroke="#3a3aa0" stroke-width="0.25">10kΩ</text>
<line x1="422.00" y1="504.50" x2="463.50" y2="504.50" stroke="#6262b6" stroke-width="1.6"/>
<line x1="463.50" y1="504.50" x2="463.50" y2="520.60" stroke="#6262b6" stroke-width="1.6"/>
<line x1="431.70" y1="504.50" x2="431.70" y2="540.40" stroke="#686868" stroke-width="1.6"/>
<rect x="427.70" y="513.30" width="8.00" height="18.30" fill="#ffffff" stroke="#2a32e6" stroke-width="1.3"/>
<text transform="translate(436.40 518.37) scale(0.9167 1)" font-family='"Liberation Sans", sans-serif' font-size="6.90" font-weight="normal" fill="#3a3aa0" stroke="#3a3aa0" stroke-width="0.25">R20</text>
<text transform="translate(436.40 526.17) scale(0.9211 1)" font-family='"Liberation Sans", sans-serif' font-size="6.90" font-weight="normal" fill="#3a3aa0" stroke="#3a3aa0" stroke-width="0.25">21kΩ</text>
<line x1="456.25" y1="520.60" x2="470.75" y2="520.60" stroke="#2a32e6" stroke-width="1.35"/>
<line x1="456.25" y1="524.30" x2="470.75" y2="524.30" stroke="#2a32e6" stroke-width="1.35"/>
<line x1="463.50" y1="524.30" x2="463.50" y2="552.40" stroke="#686868" stroke-width="1.6"/>
<text transform="translate(466.00 517.67) scale(0.9167 1)" font-family='"Liberation Sans", sans-serif' font-size="6.90" font-weight="normal" fill="#3a3aa0" stroke="#3a3aa0" stroke-width="0.25">C29</text>
<text transform="translate(467.70 532.37) scale(0.8946 1)" font-family='"Liberation Sans", sans-serif' font-size="6.90" font-weight="normal" fill="#3a3aa0" stroke="#3a3aa0" stroke-width="0.25">100nF</text>
<line x1="422.00" y1="540.40" x2="463.50" y2="540.40" stroke="#6262b6" stroke-width="1.6"/>
<line x1="431.70" y1="540.40" x2="431.70" y2="549.40" stroke="#6262b6" stroke-width="1.6"/>
<line x1="431.70" y1="549.40" x2="431.70" y2="558.20" stroke="#a24a3c" stroke-width="1.6"/>
<line x1="426.70" y1="558.20" x2="436.70" y2="558.20" stroke="#a24a3c" stroke-width="1.1"/>
<text transform="translate(426.45 564.56) scale(0.9233 1)" font-family='"Liberation Sans", sans-serif' font-size="6.60" font-weight="normal" fill="#a24a3c" stroke="#a24a3c" stroke-width="0.25">-2.5</text>
<line x1="456.25" y1="552.40" x2="470.75" y2="552.40" stroke="#2a32e6" stroke-width="1.35"/>
<line x1="456.25" y1="556.20" x2="470.75" y2="556.20" stroke="#2a32e6" stroke-width="1.35"/>
<line x1="463.50" y1="556.20" x2="463.50" y2="567.20" stroke="#686868" stroke-width="1.6"/>
<line x1="463.50" y1="567.20" x2="463.50" y2="576.80" stroke="#a24a3c" stroke-width="1.6"/>
<line x1="454.00" y1="576.80" x2="473.00" y2="576.80" stroke="#a24a3c" stroke-width="1.1"/>
<line x1="456.70" y1="579.70" x2="470.30" y2="579.70" stroke="#a24a3c" stroke-width="1.0"/>
<line x1="459.40" y1="582.40" x2="467.60" y2="582.40" stroke="#a24a3c" stroke-width="1.0"/>
<line x1="462.20" y1="585.10" x2="464.80" y2="585.10" stroke="#a24a3c" stroke-width="1.0"/>
<text transform="translate(456.50 591.56)" font-family='"Liberation Sans", sans-serif' font-size="6.30" font-weight="normal" fill="#a24a3c" stroke="#a24a3c" stroke-width="0.25">GND</text>
<text transform="translate(470.80 554.87) scale(0.9167 1)" font-family='"Liberation Sans", sans-serif' font-size="6.90" font-weight="normal" fill="#3a3aa0" stroke="#3a3aa0" stroke-width="0.25">C30</text>
<text transform="translate(470.80 562.07) scale(0.7949 1)" font-family='"Liberation Sans", sans-serif' font-size="6.90" font-weight="normal" fill="#3a3aa0" stroke="#3a3aa0" stroke-width="0.25">22uF</text>
<rect x="612.50" y="446.00" width="54.20" height="53.90" fill="#fffbb8" stroke="#b0523a" stroke-width="1.1"/>
<text transform="translate(612.50 445.27) scale(0.9165 1)" font-family='"Liberation Sans", sans-serif' font-size="6.90" font-weight="normal" fill="#3a3aa0" stroke="#3a3aa0" stroke-width="0.25">U2B</text>
<line x1="594.00" y1="454.80" x2="612.50" y2="454.80" stroke="#686868" stroke-width="1.6"/>
<line x1="666.70" y1="454.80" x2="684.20" y2="454.80" stroke="#686868" stroke-width="1.6"/>
<text transform="translate(600.62 453.04)" font-family='"Liberation Sans", sans-serif' font-size="8.20" font-weight="normal" fill="#333333" stroke="#333333" stroke-width="0.15">8</text>
<text transform="translate(673.94 453.04)" font-family='"Liberation Sans", sans-serif' font-size="8.20" font-weight="normal" fill="#333333" stroke="#333333" stroke-width="0.15">16</text>
<text transform="translate(618.80 457.66)" font-family='"Liberation Sans", sans-serif' font-size="8.00" font-weight="normal" fill="#2a2a2a" stroke="#2a2a2a" stroke-width="0.15">VS+</text>
<text transform="translate(647.40 457.66)" font-family='"Liberation Sans", sans-serif' font-size="8.00" font-weight="normal" fill="#2a2a2a" stroke="#2a2a2a" stroke-width="0.15">VS-</text>
<line x1="594.00" y1="463.70" x2="612.50" y2="463.70" stroke="#686868" stroke-width="1.6"/>
<line x1="666.70" y1="463.70" x2="684.20" y2="463.70" stroke="#686868" stroke-width="1.6"/>
<text transform="translate(600.62 461.94)" font-family='"Liberation Sans", sans-serif' font-size="8.20" font-weight="normal" fill="#333333" stroke="#333333" stroke-width="0.15">7</text>
<text transform="translate(673.94 461.94)" font-family='"Liberation Sans", sans-serif' font-size="8.20" font-weight="normal" fill="#333333" stroke="#333333" stroke-width="0.15">15</text>
<text transform="translate(618.80 466.56)" font-family='"Liberation Sans", sans-serif' font-size="8.00" font-weight="normal" fill="#2a2a2a" stroke="#2a2a2a" stroke-width="0.15">VS+</text>
<text transform="translate(647.40 466.56)" font-family='"Liberation Sans", sans-serif' font-size="8.00" font-weight="normal" fill="#2a2a2a" stroke="#2a2a2a" stroke-width="0.15">VS-</text>
<line x1="594.00" y1="472.90" x2="612.50" y2="472.90" stroke="#686868" stroke-width="1.6"/>
<line x1="666.70" y1="472.90" x2="684.20" y2="472.90" stroke="#686868" stroke-width="1.6"/>
<text transform="translate(600.62 471.14)" font-family='"Liberation Sans", sans-serif' font-size="8.20" font-weight="normal" fill="#333333" stroke="#333333" stroke-width="0.15">6</text>
<text transform="translate(673.94 471.14)" font-family='"Liberation Sans", sans-serif' font-size="8.20" font-weight="normal" fill="#333333" stroke="#333333" stroke-width="0.15">14</text>
<text transform="translate(618.80 475.76)" font-family='"Liberation Sans", sans-serif' font-size="8.00" font-weight="normal" fill="#2a2a2a" stroke="#2a2a2a" stroke-width="0.15">VS+</text>
<text transform="translate(647.40 475.76)" font-family='"Liberation Sans", sans-serif' font-size="8.00" font-weight="normal" fill="#2a2a2a" stroke="#2a2a2a" stroke-width="0.15">VS-</text>
<line x1="594.00" y1="481.70" x2="612.50" y2="481.70" stroke="#686868" stroke-width="1.6"/>
<line x1="666.70" y1="481.70" x2="684.20" y2="481.70" stroke="#686868" stroke-width="1.6"/>
<text transform="translate(600.62 479.94)" font-family='"Liberation Sans", sans-serif' font-size="8.20" font-weight="normal" fill="#333333" stroke="#333333" stroke-width="0.15">5</text>
<text transform="translate(673.94 479.94)" font-family='"Liberation Sans", sans-serif' font-size="8.20" font-weight="normal" fill="#333333" stroke="#333333" stroke-width="0.15">13</text>
<text transform="translate(618.80 484.56)" font-family='"Liberation Sans", sans-serif' font-size="8.00" font-weight="normal" fill="#2a2a2a" stroke="#2a2a2a" stroke-width="0.15">VS+</text>
<text transform="translate(647.40 484.56)" font-family='"Liberation Sans", sans-serif' font-size="8.00" font-weight="normal" fill="#2a2a2a" stroke="#2a2a2a" stroke-width="0.15">VS-</text>
<line x1="594.00" y1="490.80" x2="612.50" y2="490.80" stroke="#686868" stroke-width="1.6"/>
<line x1="666.70" y1="490.80" x2="684.20" y2="490.80" stroke="#686868" stroke-width="1.6"/>
<text transform="translate(600.62 489.04)" font-family='"Liberation Sans", sans-serif' font-size="8.20" font-weight="normal" fill="#333333" stroke="#333333" stroke-width="0.15">9</text>
<text transform="translate(673.94 489.04)" font-family='"Liberation Sans", sans-serif' font-size="8.20" font-weight="normal" fill="#333333" stroke="#333333" stroke-width="0.15">17</text>
<text transform="translate(618.80 493.66)" font-family='"Liberation Sans", sans-serif' font-size="8.00" font-weight="normal" fill="#2a2a2a" stroke="#2a2a2a" stroke-width="0.15">VOCM</text>
<text transform="translate(649.60 493.66)" font-family='"Liberation Sans", sans-serif' font-size="8.00" font-weight="normal" fill="#2a2a2a" stroke="#2a2a2a" stroke-width="0.15">EP</text>
<line x1="585.20" y1="454.80" x2="594.00" y2="454.80" stroke="#6262b6" stroke-width="1.6"/>
<line x1="684.20" y1="454.80" x2="693.70" y2="454.80" stroke="#6262b6" stroke-width="1.6"/>
<line x1="585.20" y1="463.70" x2="594.00" y2="463.70" stroke="#6262b6" stroke-width="1.6"/>
<line x1="684.20" y1="463.70" x2="693.70" y2="463.70" stroke="#6262b6" stroke-width="1.6"/>
<line x1="585.20" y1="472.90" x2="594.00" y2="472.90" stroke="#6262b6" stroke-width="1.6"/>
<line x1="684.20" y1="472.90" x2="693.70" y2="472.90" stroke="#6262b6" stroke-width="1.6"/>
<line x1="585.20" y1="481.70" x2="594.00" y2="481.70" stroke="#6262b6" stroke-width="1.6"/>
<line x1="684.20" y1="481.70" x2="693.70" y2="481.70" stroke="#6262b6" stroke-width="1.6"/>
<line x1="580.20" y1="437.10" x2="590.20" y2="437.10" stroke="#a24a3c" stroke-width="1.1"/>
<text transform="translate(579.45 435.96) scale(0.8827 1)" font-family='"Liberation Sans", sans-serif' font-size="6.60" font-weight="normal" fill="#a24a3c" stroke="#a24a3c" stroke-width="0.25">+2.5</text>
<line x1="585.20" y1="437.10" x2="585.20" y2="445.30" stroke="#a24a3c" stroke-width="1.6"/>
<line x1="585.20" y1="445.30" x2="585.20" y2="481.70" stroke="#6262b6" stroke-width="1.6"/>
<line x1="688.70" y1="437.10" x2="698.70" y2="437.10" stroke="#a24a3c" stroke-width="1.1"/>
<text transform="translate(688.45 435.96) scale(0.9233 1)" font-family='"Liberation Sans", sans-serif' font-size="6.60" font-weight="normal" fill="#a24a3c" stroke="#a24a3c" stroke-width="0.25">-2.5</text>
<line x1="693.70" y1="437.10" x2="693.70" y2="445.30" stroke="#a24a3c" stroke-width="1.6"/>
<line x1="693.70" y1="445.30" x2="693.70" y2="481.70" stroke="#6262b6" stroke-width="1.6"/>
<polyline points="594.00,490.80 585.20,490.80 585.20,500.00" fill="none" stroke="#6262b6" stroke-width="1.6" stroke-linejoin="miter"/>
<line x1="585.20" y1="500.00" x2="585.20" y2="536.00" stroke="#686868" stroke-width="1.6"/>
<rect x="581.40" y="508.60" width="7.40" height="18.50" fill="#ffffff" stroke="#2a32e6" stroke-width="1.3"/>
<line x1="585.20" y1="536.00" x2="585.20" y2="544.90" stroke="#a24a3c" stroke-width="1.6"/>
<line x1="575.70" y1="544.90" x2="594.70" y2="544.90" stroke="#a24a3c" stroke-width="1.1"/>
<line x1="578.40" y1="547.80" x2="592.00" y2="547.80" stroke="#a24a3c" stroke-width="1.0"/>
<line x1="581.10" y1="550.50" x2="589.30" y2="550.50" stroke="#a24a3c" stroke-width="1.0"/>
<line x1="583.90" y1="553.20" x2="586.50" y2="553.20" stroke="#a24a3c" stroke-width="1.0"/>
<text transform="translate(578.20 559.66)" font-family='"Liberation Sans", sans-serif' font-size="6.30" font-weight="normal" fill="#a24a3c" stroke="#a24a3c" stroke-width="0.25">GND</text>
<text transform="translate(589.70 513.77) scale(0.9167 1)" font-family='"Liberation Sans", sans-serif' font-size="6.90" font-weight="normal" fill="#3a3aa0" stroke="#3a3aa0" stroke-width="0.25">R15</text>
<text transform="translate(589.70 521.17) scale(0.8336 1)" font-family='"Liberation Sans", sans-serif' font-size="6.90" font-weight="normal" fill="#3a3aa0" stroke="#3a3aa0" stroke-width="0.25">0Ω</text>
<polyline points="684.20,490.80 693.70,490.80 693.70,501.20" fill="none" stroke="#6262b6" stroke-width="1.6" stroke-linejoin="miter"/>
<line x1="693.70" y1="501.20" x2="693.70" y2="508.80" stroke="#a24a3c" stroke-width="1.6"/>
<line x1="684.20" y1="508.80" x2="703.20" y2="508.80" stroke="#a24a3c" stroke-width="1.1"/>
<line x1="686.90" y1="511.70" x2="700.50" y2="511.70" stroke="#a24a3c" stroke-width="1.0"/>
<line x1="689.60" y1="514.40" x2="697.80" y2="514.40" stroke="#a24a3c" stroke-width="1.0"/>
<line x1="692.40" y1="517.10" x2="695.00" y2="517.10" stroke="#a24a3c" stroke-width="1.0"/>
<text transform="translate(686.70 523.56)" font-family='"Liberation Sans", sans-serif' font-size="6.30" font-weight="normal" fill="#a24a3c" stroke="#a24a3c" stroke-width="0.25">GND</text>
<rect x="842.50" y="450.35" width="54.20" height="53.90" fill="#fffbb8" stroke="#b0523a" stroke-width="1.1"/>
<text transform="translate(842.50 449.62) scale(0.9165 1)" font-family='"Liberation Sans", sans-serif' font-size="6.90" font-weight="normal" fill="#3a3aa0" stroke="#3a3aa0" stroke-width="0.25">U3B</text>
<line x1="824.00" y1="459.15" x2="842.50" y2="459.15" stroke="#686868" stroke-width="1.6"/>
<line x1="896.70" y1="459.15" x2="914.20" y2="459.15" stroke="#686868" stroke-width="1.6"/>
<text transform="translate(830.62 457.39)" font-family='"Liberation Sans", sans-serif' font-size="8.20" font-weight="normal" fill="#333333" stroke="#333333" stroke-width="0.15">8</text>
<text transform="translate(903.94 457.39)" font-family='"Liberation Sans", sans-serif' font-size="8.20" font-weight="normal" fill="#333333" stroke="#333333" stroke-width="0.15">16</text>
<text transform="translate(848.80 462.01)" font-family='"Liberation Sans", sans-serif' font-size="8.00" font-weight="normal" fill="#2a2a2a" stroke="#2a2a2a" stroke-width="0.15">VS+</text>
<text transform="translate(877.40 462.01)" font-family='"Liberation Sans", sans-serif' font-size="8.00" font-weight="normal" fill="#2a2a2a" stroke="#2a2a2a" stroke-width="0.15">VS-</text>
<line x1="824.00" y1="468.05" x2="842.50" y2="468.05" stroke="#686868" stroke-width="1.6"/>
<line x1="896.70" y1="468.05" x2="914.20" y2="468.05" stroke="#686868" stroke-width="1.6"/>
<text transform="translate(830.62 466.29)" font-family='"Liberation Sans", sans-serif' font-size="8.20" font-weight="normal" fill="#333333" stroke="#333333" stroke-width="0.15">7</text>
<text transform="translate(903.94 466.29)" font-family='"Liberation Sans", sans-serif' font-size="8.20" font-weight="normal" fill="#333333" stroke="#333333" stroke-width="0.15">15</text>
<text transform="translate(848.80 470.91)" font-family='"Liberation Sans", sans-serif' font-size="8.00" font-weight="normal" fill="#2a2a2a" stroke="#2a2a2a" stroke-width="0.15">VS+</text>
<text transform="translate(877.40 470.91)" font-family='"Liberation Sans", sans-serif' font-size="8.00" font-weight="normal" fill="#2a2a2a" stroke="#2a2a2a" stroke-width="0.15">VS-</text>
<line x1="824.00" y1="477.25" x2="842.50" y2="477.25" stroke="#686868" stroke-width="1.6"/>
<line x1="896.70" y1="477.25" x2="914.20" y2="477.25" stroke="#686868" stroke-width="1.6"/>
<text transform="translate(830.62 475.49)" font-family='"Liberation Sans", sans-serif' font-size="8.20" font-weight="normal" fill="#333333" stroke="#333333" stroke-width="0.15">6</text>
<text transform="translate(903.94 475.49)" font-family='"Liberation Sans", sans-serif' font-size="8.20" font-weight="normal" fill="#333333" stroke="#333333" stroke-width="0.15">14</text>
<text transform="translate(848.80 480.11)" font-family='"Liberation Sans", sans-serif' font-size="8.00" font-weight="normal" fill="#2a2a2a" stroke="#2a2a2a" stroke-width="0.15">VS+</text>
<text transform="translate(877.40 480.11)" font-family='"Liberation Sans", sans-serif' font-size="8.00" font-weight="normal" fill="#2a2a2a" stroke="#2a2a2a" stroke-width="0.15">VS-</text>
<line x1="824.00" y1="486.05" x2="842.50" y2="486.05" stroke="#686868" stroke-width="1.6"/>
<line x1="896.70" y1="486.05" x2="914.20" y2="486.05" stroke="#686868" stroke-width="1.6"/>
<text transform="translate(830.62 484.29)" font-family='"Liberation Sans", sans-serif' font-size="8.20" font-weight="normal" fill="#333333" stroke="#333333" stroke-width="0.15">5</text>
<text transform="translate(903.94 484.29)" font-family='"Liberation Sans", sans-serif' font-size="8.20" font-weight="normal" fill="#333333" stroke="#333333" stroke-width="0.15">13</text>
<text transform="translate(848.80 488.91)" font-family='"Liberation Sans", sans-serif' font-size="8.00" font-weight="normal" fill="#2a2a2a" stroke="#2a2a2a" stroke-width="0.15">VS+</text>
<text transform="translate(877.40 488.91)" font-family='"Liberation Sans", sans-serif' font-size="8.00" font-weight="normal" fill="#2a2a2a" stroke="#2a2a2a" stroke-width="0.15">VS-</text>
<line x1="824.00" y1="495.15" x2="842.50" y2="495.15" stroke="#686868" stroke-width="1.6"/>
<line x1="896.70" y1="495.15" x2="914.20" y2="495.15" stroke="#686868" stroke-width="1.6"/>
<text transform="translate(830.62 493.39)" font-family='"Liberation Sans", sans-serif' font-size="8.20" font-weight="normal" fill="#333333" stroke="#333333" stroke-width="0.15">9</text>
<text transform="translate(903.94 493.39)" font-family='"Liberation Sans", sans-serif' font-size="8.20" font-weight="normal" fill="#333333" stroke="#333333" stroke-width="0.15">17</text>
<text transform="translate(848.80 498.01)" font-family='"Liberation Sans", sans-serif' font-size="8.00" font-weight="normal" fill="#2a2a2a" stroke="#2a2a2a" stroke-width="0.15">VOCM</text>
<text transform="translate(879.60 498.01)" font-family='"Liberation Sans", sans-serif' font-size="8.00" font-weight="normal" fill="#2a2a2a" stroke="#2a2a2a" stroke-width="0.15">EP</text>
<line x1="815.20" y1="459.15" x2="824.00" y2="459.15" stroke="#6262b6" stroke-width="1.6"/>
<line x1="914.20" y1="459.15" x2="923.70" y2="459.15" stroke="#6262b6" stroke-width="1.6"/>
<line x1="815.20" y1="468.05" x2="824.00" y2="468.05" stroke="#6262b6" stroke-width="1.6"/>
<line x1="914.20" y1="468.05" x2="923.70" y2="468.05" stroke="#6262b6" stroke-width="1.6"/>
<line x1="815.20" y1="477.25" x2="824.00" y2="477.25" stroke="#6262b6" stroke-width="1.6"/>
<line x1="914.20" y1="477.25" x2="923.70" y2="477.25" stroke="#6262b6" stroke-width="1.6"/>
<line x1="815.20" y1="486.05" x2="824.00" y2="486.05" stroke="#6262b6" stroke-width="1.6"/>
<line x1="914.20" y1="486.05" x2="923.70" y2="486.05" stroke="#6262b6" stroke-width="1.6"/>
<line x1="810.20" y1="441.45" x2="820.20" y2="441.45" stroke="#a24a3c" stroke-width="1.1"/>
<text transform="translate(809.45 440.31) scale(0.8827 1)" font-family='"Liberation Sans", sans-serif' font-size="6.60" font-weight="normal" fill="#a24a3c" stroke="#a24a3c" stroke-width="0.25">+2.5</text>
<line x1="815.20" y1="441.45" x2="815.20" y2="449.65" stroke="#a24a3c" stroke-width="1.6"/>
<line x1="815.20" y1="449.65" x2="815.20" y2="486.05" stroke="#6262b6" stroke-width="1.6"/>
<line x1="918.70" y1="441.45" x2="928.70" y2="441.45" stroke="#a24a3c" stroke-width="1.1"/>
<text transform="translate(918.45 440.31) scale(0.9233 1)" font-family='"Liberation Sans", sans-serif' font-size="6.60" font-weight="normal" fill="#a24a3c" stroke="#a24a3c" stroke-width="0.25">-2.5</text>
<line x1="923.70" y1="441.45" x2="923.70" y2="449.65" stroke="#a24a3c" stroke-width="1.6"/>
<line x1="923.70" y1="449.65" x2="923.70" y2="486.05" stroke="#6262b6" stroke-width="1.6"/>
<polyline points="824.00,495.15 815.20,495.15 815.20,504.35" fill="none" stroke="#6262b6" stroke-width="1.6" stroke-linejoin="miter"/>
<line x1="815.20" y1="504.35" x2="815.20" y2="540.35" stroke="#686868" stroke-width="1.6"/>
<rect x="811.40" y="512.95" width="7.40" height="18.50" fill="#ffffff" stroke="#2a32e6" stroke-width="1.3"/>
<line x1="815.20" y1="540.35" x2="815.20" y2="549.25" stroke="#a24a3c" stroke-width="1.6"/>
<line x1="805.70" y1="549.25" x2="824.70" y2="549.25" stroke="#a24a3c" stroke-width="1.1"/>
<line x1="808.40" y1="552.15" x2="822.00" y2="552.15" stroke="#a24a3c" stroke-width="1.0"/>
<line x1="811.10" y1="554.85" x2="819.30" y2="554.85" stroke="#a24a3c" stroke-width="1.0"/>
<line x1="813.90" y1="557.55" x2="816.50" y2="557.55" stroke="#a24a3c" stroke-width="1.0"/>
<text transform="translate(808.20 564.01)" font-family='"Liberation Sans", sans-serif' font-size="6.30" font-weight="normal" fill="#a24a3c" stroke="#a24a3c" stroke-width="0.25">GND</text>
<text transform="translate(819.70 518.12) scale(0.9167 1)" font-family='"Liberation Sans", sans-serif' font-size="6.90" font-weight="normal" fill="#3a3aa0" stroke="#3a3aa0" stroke-width="0.25">R16</text>
<text transform="translate(819.70 525.52) scale(0.8336 1)" font-family='"Liberation Sans", sans-serif' font-size="6.90" font-weight="normal" fill="#3a3aa0" stroke="#3a3aa0" stroke-width="0.25">0Ω</text>
<polyline points="914.20,495.15 923.70,495.15 923.70,505.55" fill="none" stroke="#6262b6" stroke-width="1.6" stroke-linejoin="miter"/>
<line x1="923.70" y1="505.55" x2="923.70" y2="513.15" stroke="#a24a3c" stroke-width="1.6"/>
<line x1="914.20" y1="513.15" x2="933.20" y2="513.15" stroke="#a24a3c" stroke-width="1.1"/>
<line x1="916.90" y1="516.05" x2="930.50" y2="516.05" stroke="#a24a3c" stroke-width="1.0"/>
<line x1="919.60" y1="518.75" x2="927.80" y2="518.75" stroke="#a24a3c" stroke-width="1.0"/>
<line x1="922.40" y1="521.45" x2="925.00" y2="521.45" stroke="#a24a3c" stroke-width="1.0"/>
<text transform="translate(916.70 527.91)" font-family='"Liberation Sans", sans-serif' font-size="6.30" font-weight="normal" fill="#a24a3c" stroke="#a24a3c" stroke-width="0.25">GND</text>
<line x1="729.10" y1="436.10" x2="739.10" y2="436.10" stroke="#a24a3c" stroke-width="1.1"/>
<text transform="translate(728.85 434.96) scale(0.9233 1)" font-family='"Liberation Sans", sans-serif' font-size="6.60" font-weight="normal" fill="#a24a3c" stroke="#a24a3c" stroke-width="0.25">-2.5</text>
<line x1="734.10" y1="436.10" x2="734.10" y2="446.20" stroke="#a24a3c" stroke-width="1.6"/>
<line x1="734.10" y1="446.20" x2="734.10" y2="457.50" stroke="#686868" stroke-width="1.6"/>
<line x1="726.85" y1="457.50" x2="741.35" y2="457.50" stroke="#2a32e6" stroke-width="1.35"/>
<line x1="726.85" y1="461.20" x2="741.35" y2="461.20" stroke="#2a32e6" stroke-width="1.35"/>
<line x1="734.10" y1="461.20" x2="734.10" y2="473.10" stroke="#686868" stroke-width="1.6"/>
<line x1="734.10" y1="473.10" x2="734.10" y2="481.80" stroke="#a24a3c" stroke-width="1.6"/>
<line x1="724.60" y1="481.80" x2="743.60" y2="481.80" stroke="#a24a3c" stroke-width="1.1"/>
<line x1="727.30" y1="484.70" x2="740.90" y2="484.70" stroke="#a24a3c" stroke-width="1.0"/>
<line x1="730.00" y1="487.40" x2="738.20" y2="487.40" stroke="#a24a3c" stroke-width="1.0"/>
<line x1="732.80" y1="490.10" x2="735.40" y2="490.10" stroke="#a24a3c" stroke-width="1.0"/>
<text transform="translate(727.10 496.56)" font-family='"Liberation Sans", sans-serif' font-size="6.30" font-weight="normal" fill="#a24a3c" stroke="#a24a3c" stroke-width="0.25">GND</text>
<text transform="translate(737.10 452.87) scale(0.9167 1)" font-family='"Liberation Sans", sans-serif' font-size="6.90" font-weight="normal" fill="#3a3aa0" stroke="#3a3aa0" stroke-width="0.25">C14</text>
<text transform="translate(738.50 474.07) scale(0.9012 1)" font-family='"Liberation Sans", sans-serif' font-size="6.90" font-weight="normal" fill="#3a3aa0" stroke="#3a3aa0" stroke-width="0.25">2.2uF</text>
<line x1="756.10" y1="436.10" x2="766.10" y2="436.10" stroke="#a24a3c" stroke-width="1.1"/>
<text transform="translate(755.85 434.96) scale(0.9233 1)" font-family='"Liberation Sans", sans-serif' font-size="6.60" font-weight="normal" fill="#a24a3c" stroke="#a24a3c" stroke-width="0.25">-2.5</text>
<line x1="761.10" y1="436.10" x2="761.10" y2="446.20" stroke="#a24a3c" stroke-width="1.6"/>
<line x1="761.10" y1="446.20" x2="761.10" y2="457.50" stroke="#686868" stroke-width="1.6"/>
<line x1="753.85" y1="457.50" x2="768.35" y2="457.50" stroke="#2a32e6" stroke-width="1.35"/>
<line x1="753.85" y1="461.20" x2="768.35" y2="461.20" stroke="#2a32e6" stroke-width="1.35"/>
<line x1="761.10" y1="461.20" x2="761.10" y2="473.10" stroke="#686868" stroke-width="1.6"/>
<line x1="761.10" y1="473.10" x2="761.10" y2="481.80" stroke="#a24a3c" stroke-width="1.6"/>
<line x1="751.60" y1="481.80" x2="770.60" y2="481.80" stroke="#a24a3c" stroke-width="1.1"/>
<line x1="754.30" y1="484.70" x2="767.90" y2="484.70" stroke="#a24a3c" stroke-width="1.0"/>
<line x1="757.00" y1="487.40" x2="765.20" y2="487.40" stroke="#a24a3c" stroke-width="1.0"/>
<line x1="759.80" y1="490.10" x2="762.40" y2="490.10" stroke="#a24a3c" stroke-width="1.0"/>
<text transform="translate(754.10 496.56)" font-family='"Liberation Sans", sans-serif' font-size="6.30" font-weight="normal" fill="#a24a3c" stroke="#a24a3c" stroke-width="0.25">GND</text>
<text transform="translate(764.10 452.87) scale(0.9167 1)" font-family='"Liberation Sans", sans-serif' font-size="6.90" font-weight="normal" fill="#3a3aa0" stroke="#3a3aa0" stroke-width="0.25">C15</text>
<text transform="translate(765.50 474.07) scale(0.9012 1)" font-family='"Liberation Sans", sans-serif' font-size="6.90" font-weight="normal" fill="#3a3aa0" stroke="#3a3aa0" stroke-width="0.25">2.2uF</text>
<line x1="729.10" y1="513.30" x2="739.10" y2="513.30" stroke="#a24a3c" stroke-width="1.1"/>
<text transform="translate(728.35 512.16) scale(0.8827 1)" font-family='"Liberation Sans", sans-serif' font-size="6.60" font-weight="normal" fill="#a24a3c" stroke="#a24a3c" stroke-width="0.25">+2.5</text>
<line x1="734.10" y1="513.30" x2="734.10" y2="523.40" stroke="#a24a3c" stroke-width="1.6"/>
<line x1="734.10" y1="523.40" x2="734.10" y2="534.70" stroke="#686868" stroke-width="1.6"/>
<line x1="726.85" y1="534.70" x2="741.35" y2="534.70" stroke="#2a32e6" stroke-width="1.35"/>
<line x1="726.85" y1="538.40" x2="741.35" y2="538.40" stroke="#2a32e6" stroke-width="1.35"/>
<line x1="734.10" y1="538.40" x2="734.10" y2="550.30" stroke="#686868" stroke-width="1.6"/>
<line x1="734.10" y1="550.30" x2="734.10" y2="559.00" stroke="#a24a3c" stroke-width="1.6"/>
<line x1="724.60" y1="559.00" x2="743.60" y2="559.00" stroke="#a24a3c" stroke-width="1.1"/>
<line x1="727.30" y1="561.90" x2="740.90" y2="561.90" stroke="#a24a3c" stroke-width="1.0"/>
<line x1="730.00" y1="564.60" x2="738.20" y2="564.60" stroke="#a24a3c" stroke-width="1.0"/>
<line x1="732.80" y1="567.30" x2="735.40" y2="567.30" stroke="#a24a3c" stroke-width="1.0"/>
<text transform="translate(727.10 573.76)" font-family='"Liberation Sans", sans-serif' font-size="6.30" font-weight="normal" fill="#a24a3c" stroke="#a24a3c" stroke-width="0.25">GND</text>
<text transform="translate(737.10 530.07) scale(0.9167 1)" font-family='"Liberation Sans", sans-serif' font-size="6.90" font-weight="normal" fill="#3a3aa0" stroke="#3a3aa0" stroke-width="0.25">C20</text>
<text transform="translate(738.50 551.27) scale(0.9012 1)" font-family='"Liberation Sans", sans-serif' font-size="6.90" font-weight="normal" fill="#3a3aa0" stroke="#3a3aa0" stroke-width="0.25">2.2uF</text>
<line x1="756.10" y1="513.30" x2="766.10" y2="513.30" stroke="#a24a3c" stroke-width="1.1"/>
<text transform="translate(755.35 512.16) scale(0.8827 1)" font-family='"Liberation Sans", sans-serif' font-size="6.60" font-weight="normal" fill="#a24a3c" stroke="#a24a3c" stroke-width="0.25">+2.5</text>
<line x1="761.10" y1="513.30" x2="761.10" y2="523.40" stroke="#a24a3c" stroke-width="1.6"/>
<line x1="761.10" y1="523.40" x2="761.10" y2="534.70" stroke="#686868" stroke-width="1.6"/>
<line x1="753.85" y1="534.70" x2="768.35" y2="534.70" stroke="#2a32e6" stroke-width="1.35"/>
<line x1="753.85" y1="538.40" x2="768.35" y2="538.40" stroke="#2a32e6" stroke-width="1.35"/>
<line x1="761.10" y1="538.40" x2="761.10" y2="550.30" stroke="#686868" stroke-width="1.6"/>
<line x1="761.10" y1="550.30" x2="761.10" y2="559.00" stroke="#a24a3c" stroke-width="1.6"/>
<line x1="751.60" y1="559.00" x2="770.60" y2="559.00" stroke="#a24a3c" stroke-width="1.1"/>
<line x1="754.30" y1="561.90" x2="767.90" y2="561.90" stroke="#a24a3c" stroke-width="1.0"/>
<line x1="757.00" y1="564.60" x2="765.20" y2="564.60" stroke="#a24a3c" stroke-width="1.0"/>
<line x1="759.80" y1="567.30" x2="762.40" y2="567.30" stroke="#a24a3c" stroke-width="1.0"/>
<text transform="translate(754.10 573.76)" font-family='"Liberation Sans", sans-serif' font-size="6.30" font-weight="normal" fill="#a24a3c" stroke="#a24a3c" stroke-width="0.25">GND</text>
<text transform="translate(764.10 530.07) scale(0.9167 1)" font-family='"Liberation Sans", sans-serif' font-size="6.90" font-weight="normal" fill="#3a3aa0" stroke="#3a3aa0" stroke-width="0.25">C21</text>
<text transform="translate(765.50 551.27) scale(0.9012 1)" font-family='"Liberation Sans", sans-serif' font-size="6.90" font-weight="normal" fill="#3a3aa0" stroke="#3a3aa0" stroke-width="0.25">2.2uF</text>
<line x1="955.00" y1="440.70" x2="965.00" y2="440.70" stroke="#a24a3c" stroke-width="1.1"/>
<text transform="translate(954.75 439.56) scale(0.9233 1)" font-family='"Liberation Sans", sans-serif' font-size="6.60" font-weight="normal" fill="#a24a3c" stroke="#a24a3c" stroke-width="0.25">-2.5</text>
<line x1="960.00" y1="440.70" x2="960.00" y2="450.80" stroke="#a24a3c" stroke-width="1.6"/>
<line x1="960.00" y1="450.80" x2="960.00" y2="462.10" stroke="#686868" stroke-width="1.6"/>
<line x1="952.75" y1="462.10" x2="967.25" y2="462.10" stroke="#2a32e6" stroke-width="1.35"/>
<line x1="952.75" y1="465.80" x2="967.25" y2="465.80" stroke="#2a32e6" stroke-width="1.35"/>
<line x1="960.00" y1="465.80" x2="960.00" y2="477.70" stroke="#686868" stroke-width="1.6"/>
<line x1="960.00" y1="477.70" x2="960.00" y2="486.40" stroke="#a24a3c" stroke-width="1.6"/>
<line x1="950.50" y1="486.40" x2="969.50" y2="486.40" stroke="#a24a3c" stroke-width="1.1"/>
<line x1="953.20" y1="489.30" x2="966.80" y2="489.30" stroke="#a24a3c" stroke-width="1.0"/>
<line x1="955.90" y1="492.00" x2="964.10" y2="492.00" stroke="#a24a3c" stroke-width="1.0"/>
<line x1="958.70" y1="494.70" x2="961.30" y2="494.70" stroke="#a24a3c" stroke-width="1.0"/>
<text transform="translate(953.00 501.16)" font-family='"Liberation Sans", sans-serif' font-size="6.30" font-weight="normal" fill="#a24a3c" stroke="#a24a3c" stroke-width="0.25">GND</text>
<text transform="translate(963.00 457.47) scale(0.9167 1)" font-family='"Liberation Sans", sans-serif' font-size="6.90" font-weight="normal" fill="#3a3aa0" stroke="#3a3aa0" stroke-width="0.25">C18</text>
<text transform="translate(964.40 478.67) scale(0.9012 1)" font-family='"Liberation Sans", sans-serif' font-size="6.90" font-weight="normal" fill="#3a3aa0" stroke="#3a3aa0" stroke-width="0.25">2.2uF</text>
<line x1="982.00" y1="440.70" x2="992.00" y2="440.70" stroke="#a24a3c" stroke-width="1.1"/>
<text transform="translate(981.75 439.56) scale(0.9233 1)" font-family='"Liberation Sans", sans-serif' font-size="6.60" font-weight="normal" fill="#a24a3c" stroke="#a24a3c" stroke-width="0.25">-2.5</text>
<line x1="987.00" y1="440.70" x2="987.00" y2="450.80" stroke="#a24a3c" stroke-width="1.6"/>
<line x1="987.00" y1="450.80" x2="987.00" y2="462.10" stroke="#686868" stroke-width="1.6"/>
<line x1="979.75" y1="462.10" x2="994.25" y2="462.10" stroke="#2a32e6" stroke-width="1.35"/>
<line x1="979.75" y1="465.80" x2="994.25" y2="465.80" stroke="#2a32e6" stroke-width="1.35"/>
<line x1="987.00" y1="465.80" x2="987.00" y2="477.70" stroke="#686868" stroke-width="1.6"/>
<line x1="987.00" y1="477.70" x2="987.00" y2="486.40" stroke="#a24a3c" stroke-width="1.6"/>
<line x1="977.50" y1="486.40" x2="996.50" y2="486.40" stroke="#a24a3c" stroke-width="1.1"/>
<line x1="980.20" y1="489.30" x2="993.80" y2="489.30" stroke="#a24a3c" stroke-width="1.0"/>
<line x1="982.90" y1="492.00" x2="991.10" y2="492.00" stroke="#a24a3c" stroke-width="1.0"/>
<line x1="985.70" y1="494.70" x2="988.30" y2="494.70" stroke="#a24a3c" stroke-width="1.0"/>
<text transform="translate(980.00 501.16)" font-family='"Liberation Sans", sans-serif' font-size="6.30" font-weight="normal" fill="#a24a3c" stroke="#a24a3c" stroke-width="0.25">GND</text>
<text transform="translate(990.00 457.47) scale(0.9167 1)" font-family='"Liberation Sans", sans-serif' font-size="6.90" font-weight="normal" fill="#3a3aa0" stroke="#3a3aa0" stroke-width="0.25">C19</text>
<text transform="translate(991.40 478.67) scale(0.9012 1)" font-family='"Liberation Sans", sans-serif' font-size="6.90" font-weight="normal" fill="#3a3aa0" stroke="#3a3aa0" stroke-width="0.25">2.2uF</text>
<line x1="955.00" y1="517.90" x2="965.00" y2="517.90" stroke="#a24a3c" stroke-width="1.1"/>
<text transform="translate(954.25 516.76) scale(0.8827 1)" font-family='"Liberation Sans", sans-serif' font-size="6.60" font-weight="normal" fill="#a24a3c" stroke="#a24a3c" stroke-width="0.25">+2.5</text>
<line x1="960.00" y1="517.90" x2="960.00" y2="528.00" stroke="#a24a3c" stroke-width="1.6"/>
<line x1="960.00" y1="528.00" x2="960.00" y2="539.30" stroke="#686868" stroke-width="1.6"/>
<line x1="952.75" y1="539.30" x2="967.25" y2="539.30" stroke="#2a32e6" stroke-width="1.35"/>
<line x1="952.75" y1="543.00" x2="967.25" y2="543.00" stroke="#2a32e6" stroke-width="1.35"/>
<line x1="960.00" y1="543.00" x2="960.00" y2="554.90" stroke="#686868" stroke-width="1.6"/>
<line x1="960.00" y1="554.90" x2="960.00" y2="563.60" stroke="#a24a3c" stroke-width="1.6"/>
<line x1="950.50" y1="563.60" x2="969.50" y2="563.60" stroke="#a24a3c" stroke-width="1.1"/>
<line x1="953.20" y1="566.50" x2="966.80" y2="566.50" stroke="#a24a3c" stroke-width="1.0"/>
<line x1="955.90" y1="569.20" x2="964.10" y2="569.20" stroke="#a24a3c" stroke-width="1.0"/>
<line x1="958.70" y1="571.90" x2="961.30" y2="571.90" stroke="#a24a3c" stroke-width="1.0"/>
<text transform="translate(953.00 578.36)" font-family='"Liberation Sans", sans-serif' font-size="6.30" font-weight="normal" fill="#a24a3c" stroke="#a24a3c" stroke-width="0.25">GND</text>
<text transform="translate(963.00 534.67) scale(0.9167 1)" font-family='"Liberation Sans", sans-serif' font-size="6.90" font-weight="normal" fill="#3a3aa0" stroke="#3a3aa0" stroke-width="0.25">C22</text>
<text transform="translate(964.40 555.87) scale(0.9012 1)" font-family='"Liberation Sans", sans-serif' font-size="6.90" font-weight="normal" fill="#3a3aa0" stroke="#3a3aa0" stroke-width="0.25">2.2uF</text>
<line x1="982.00" y1="517.90" x2="992.00" y2="517.90" stroke="#a24a3c" stroke-width="1.1"/>
<text transform="translate(981.25 516.76) scale(0.8827 1)" font-family='"Liberation Sans", sans-serif' font-size="6.60" font-weight="normal" fill="#a24a3c" stroke="#a24a3c" stroke-width="0.25">+2.5</text>
<line x1="987.00" y1="517.90" x2="987.00" y2="528.00" stroke="#a24a3c" stroke-width="1.6"/>
<line x1="987.00" y1="528.00" x2="987.00" y2="539.30" stroke="#686868" stroke-width="1.6"/>
<line x1="979.75" y1="539.30" x2="994.25" y2="539.30" stroke="#2a32e6" stroke-width="1.35"/>
<line x1="979.75" y1="543.00" x2="994.25" y2="543.00" stroke="#2a32e6" stroke-width="1.35"/>
<line x1="987.00" y1="543.00" x2="987.00" y2="554.90" stroke="#686868" stroke-width="1.6"/>
<line x1="987.00" y1="554.90" x2="987.00" y2="563.60" stroke="#a24a3c" stroke-width="1.6"/>
<line x1="977.50" y1="563.60" x2="996.50" y2="563.60" stroke="#a24a3c" stroke-width="1.1"/>
<line x1="980.20" y1="566.50" x2="993.80" y2="566.50" stroke="#a24a3c" stroke-width="1.0"/>
<line x1="982.90" y1="569.20" x2="991.10" y2="569.20" stroke="#a24a3c" stroke-width="1.0"/>
<line x1="985.70" y1="571.90" x2="988.30" y2="571.90" stroke="#a24a3c" stroke-width="1.0"/>
<text transform="translate(980.00 578.36)" font-family='"Liberation Sans", sans-serif' font-size="6.30" font-weight="normal" fill="#a24a3c" stroke="#a24a3c" stroke-width="0.25">GND</text>
<text transform="translate(990.00 534.67) scale(0.9167 1)" font-family='"Liberation Sans", sans-serif' font-size="6.90" font-weight="normal" fill="#3a3aa0" stroke="#3a3aa0" stroke-width="0.25">C23</text>
<text transform="translate(991.40 555.87) scale(0.9012 1)" font-family='"Liberation Sans", sans-serif' font-size="6.90" font-weight="normal" fill="#3a3aa0" stroke="#3a3aa0" stroke-width="0.25">2.2uF</text>
<line x1="597.90" y1="626.30" x2="597.90" y2="707.00" stroke="#333333" stroke-width="1.1"/>
<line x1="603.50" y1="626.30" x2="603.50" y2="707.00" stroke="#333333" stroke-width="1.2"/>
<line x1="603.50" y1="626.30" x2="670.90" y2="626.30" stroke="#333333" stroke-width="1.2"/>
<line x1="747.50" y1="626.30" x2="1018.20" y2="626.30" stroke="#333333" stroke-width="1.2"/>
<line x1="1018.20" y1="626.30" x2="1018.20" y2="707.00" stroke="#333333" stroke-width="1.2"/>
<text transform="translate(675.60 630.90)" font-family='"Liberation Sans", sans-serif' font-size="18.97" font-weight="normal" fill="#111111">Redako</text>
<text transform="translate(774.70 634.07) scale(0.9293 1)" font-family='"Liberation Sans", sans-serif' font-size="6.90" font-weight="normal" fill="#222222" stroke="#222222" stroke-width="0.12">Keilestraat 5a, 3029BP, Rotterdam, M: david@redako.nl, T: +31 6 16001008</text>
<text transform="translate(607.90 647.23)" font-family='"Liberation Sans", sans-serif' font-size="7.90" font-weight="bold" fill="#222222" stroke="#222222" stroke-width="0.05">Project</text>
<line x1="639.30" y1="644.50" x2="829.30" y2="644.50" stroke="#333333" stroke-width="1.2"/>
<line x1="874.50" y1="644.50" x2="1018.20" y2="644.50" stroke="#333333" stroke-width="1.2"/>
<text transform="translate(833.70 647.23) scale(1.0088 1)" font-family='"Liberation Sans", sans-serif' font-size="7.90" font-weight="bold" fill="#222222" stroke="#222222" stroke-width="0.05">Customer</text>
<text transform="translate(640.00 657.50)" font-family='"Liberation Sans", sans-serif' font-size="11.20" font-weight="normal" fill="#2b2b9a" stroke="#2b2b9a" stroke-width="0.1">Impedance Analyzer V1.0</text>
<text transform="translate(607.90 665.43) scale(0.9938 1)" font-family='"Liberation Sans", sans-serif' font-size="7.90" font-weight="bold" fill="#222222" stroke="#222222" stroke-width="0.05">Title</text>
<line x1="627.50" y1="662.40" x2="829.30" y2="662.40" stroke="#333333" stroke-width="1.2"/>
<text transform="translate(640.00 675.50)" font-family='"Liberation Sans", sans-serif' font-size="11.27" font-weight="normal" fill="#2b2b9a" stroke="#2b2b9a" stroke-width="0.1">Main Schematic</text>
<line x1="829.30" y1="644.50" x2="829.30" y2="698.50" stroke="#333333" stroke-width="1.2"/>
<line x1="928.60" y1="644.50" x2="928.60" y2="698.50" stroke="#333333" stroke-width="1.2"/>
<line x1="603.50" y1="680.40" x2="829.30" y2="680.40" stroke="#333333" stroke-width="1.2"/>
<line x1="603.50" y1="689.50" x2="829.30" y2="689.50" stroke="#333333" stroke-width="1.2"/>
<line x1="603.50" y1="698.50" x2="1018.20" y2="698.50" stroke="#333333" stroke-width="1.2"/>
<line x1="603.50" y1="707.00" x2="1018.20" y2="707.00" stroke="#333333" stroke-width="1.2"/>
<line x1="684.40" y1="680.40" x2="684.40" y2="698.50" stroke="#333333" stroke-width="1.2"/>
<line x1="747.40" y1="680.40" x2="747.40" y2="707.00" stroke="#333333" stroke-width="1.2"/>
<line x1="964.70" y1="698.50" x2="964.70" y2="707.00" stroke="#333333" stroke-width="1.2"/>
<text transform="translate(607.90 688.00)" font-family='"Liberation Sans", sans-serif' font-size="8.00" font-weight="normal" fill="#555555" stroke="#555555" stroke-width="0.12">Size:</text>
<text transform="translate(630.20 688.00)" font-family='"Liberation Sans", sans-serif' font-size="7.10" font-weight="normal" fill="#2b2b9a" stroke="#2b2b9a" stroke-width="0.12">A4</text>
<text transform="translate(689.50 688.00)" font-family='"Liberation Sans", sans-serif' font-size="8.00" font-weight="normal" fill="#555555" stroke="#555555" stroke-width="0.12">Revision:</text>
<text transform="translate(725.60 688.00)" font-family='"Liberation Sans", sans-serif' font-size="7.10" font-weight="normal" fill="#2b2b9a" stroke="#2b2b9a" stroke-width="0.12">1.0</text>
<text transform="translate(752.50 688.00)" font-family='"Liberation Sans", sans-serif' font-size="8.00" font-weight="normal" fill="#555555" stroke="#555555" stroke-width="0.12">Drawn by:</text>
<text transform="translate(792.70 688.00)" font-family='"Liberation Sans", sans-serif' font-size="7.10" font-weight="normal" fill="#2b2b9a" stroke="#2b2b9a" stroke-width="0.12">David</text>
<text transform="translate(607.90 697.00)" font-family='"Liberation Sans", sans-serif' font-size="8.00" font-weight="normal" fill="#555555" stroke="#555555" stroke-width="0.12">Date:</text>
<text transform="translate(630.40 697.00)" font-family='"Liberation Sans", sans-serif' font-size="7.10" font-weight="normal" fill="#2b2b9a" stroke="#2b2b9a" stroke-width="0.12">10/29/2024</text>
<text transform="translate(689.50 697.00)" font-family='"Liberation Sans", sans-serif' font-size="8.00" font-weight="normal" fill="#555555" stroke="#555555" stroke-width="0.12">Time:</text>
<text transform="translate(712.00 697.00)" font-family='"Liberation Sans", sans-serif' font-size="6.90" font-weight="normal" fill="#2b2b9a" stroke="#2b2b9a" stroke-width="0.12">10:08:57 AM</text>
<text transform="translate(752.50 697.00)" font-family='"Liberation Sans", sans-serif' font-size="8.00" font-weight="normal" fill="#555555" stroke="#555555" stroke-width="0.12">GIT Revision:</text>
<text transform="translate(607.90 705.80)" font-family='"Liberation Sans", sans-serif' font-size="8.00" font-weight="normal" fill="#555555" stroke="#555555" stroke-width="0.12">File:</text>
<text transform="translate(626.00 705.80)" font-family='"Liberation Sans", sans-serif' font-size="7.20" font-weight="normal" fill="#2b2b9a" stroke="#2b2b9a" stroke-width="0.12">PDN Analyzer.SchDoc</text>
<text transform="translate(752.50 705.80)" font-family='"Liberation Sans", sans-serif' font-size="7.15" font-weight="normal" fill="#2b2b9a" stroke="#2b2b9a" stroke-width="0.12">b3ef9e1779b1cfa82cb907d4126408b5c5ae6b43 [Locally Modified]</text>
<text transform="translate(966.20 705.80)" font-family='"Liberation Sans", sans-serif' font-size="8.00" font-weight="normal" fill="#555555" stroke="#555555" stroke-width="0.12">Sheet:</text>
<text transform="translate(989.00 705.80)" font-family='"Liberation Sans", sans-serif' font-size="7.10" font-weight="normal" fill="#2b2b9a" stroke="#2b2b9a" stroke-width="0.12">1</text>
<text transform="translate(1000.90 705.80)" font-family='"Liberation Sans", sans-serif' font-size="8.00" font-weight="normal" fill="#555555" stroke="#555555" stroke-width="0.12">of</text>
<text transform="translate(1010.20 705.80)" font-family='"Liberation Sans", sans-serif' font-size="7.10" font-weight="normal" fill="#2b2b9a" stroke="#2b2b9a" stroke-width="0.12">1</text>
<circle cx="404.50" cy="201.90" r="2.15" fill="#000080"/>
<circle cx="422.50" cy="201.90" r="2.15" fill="#000080"/>
<circle cx="458.40" cy="201.90" r="2.15" fill="#000080"/>
<circle cx="540.20" cy="228.70" r="2.15" fill="#000080"/>
<circle cx="585.30" cy="228.70" r="2.15" fill="#000080"/>
<circle cx="594.10" cy="228.70" r="2.15" fill="#000080"/>
<circle cx="711.40" cy="201.90" r="2.15" fill="#000080"/>
<circle cx="711.40" cy="229.10" r="2.15" fill="#000080"/>
<circle cx="757.10" cy="201.90" r="2.15" fill="#000080"/>
<circle cx="752.20" cy="219.80" r="2.15" fill="#000080"/>
<circle cx="711.60" cy="296.60" r="2.15" fill="#000080"/>
<circle cx="711.60" cy="323.80" r="2.15" fill="#000080"/>
<circle cx="752.30" cy="323.80" r="2.15" fill="#000080"/>
<circle cx="756.70" cy="296.60" r="2.15" fill="#000080"/>
<circle cx="47.80" cy="581.00" r="2.15" fill="#000080"/>
<circle cx="156.00" cy="581.00" r="2.15" fill="#000080"/>
<circle cx="269.10" cy="423.10" r="2.15" fill="#000080"/>
<circle cx="269.10" cy="504.40" r="2.15" fill="#000080"/>
<circle cx="269.10" cy="540.60" r="2.15" fill="#000080"/>
<circle cx="422.70" cy="422.90" r="2.15" fill="#000080"/>
<circle cx="472.10" cy="422.90" r="2.15" fill="#000080"/>
<circle cx="504.00" cy="422.90" r="2.15" fill="#000080"/>
<circle cx="472.10" cy="459.20" r="2.15" fill="#000080"/>
<circle cx="504.00" cy="459.20" r="2.15" fill="#000080"/>
<circle cx="431.70" cy="504.50" r="2.15" fill="#000080"/>
<circle cx="431.70" cy="540.40" r="2.15" fill="#000080"/>
<circle cx="463.50" cy="540.40" r="2.15" fill="#000080"/>
<circle cx="585.20" cy="454.80" r="2.15" fill="#000080"/>
<circle cx="693.70" cy="454.80" r="2.15" fill="#000080"/>
<circle cx="585.20" cy="463.70" r="2.15" fill="#000080"/>
<circle cx="693.70" cy="463.70" r="2.15" fill="#000080"/>
<circle cx="585.20" cy="472.90" r="2.15" fill="#000080"/>
<circle cx="693.70" cy="472.90" r="2.15" fill="#000080"/>
<circle cx="815.20" cy="459.15" r="2.15" fill="#000080"/>
<circle cx="923.70" cy="459.15" r="2.15" fill="#000080"/>
<circle cx="815.20" cy="468.05" r="2.15" fill="#000080"/>
<circle cx="923.70" cy="468.05" r="2.15" fill="#000080"/>
<circle cx="815.20" cy="477.25" r="2.15" fill="#000080"/>
<circle cx="923.70" cy="477.25" r="2.15" fill="#000080"/>
</svg>
</body></html>
